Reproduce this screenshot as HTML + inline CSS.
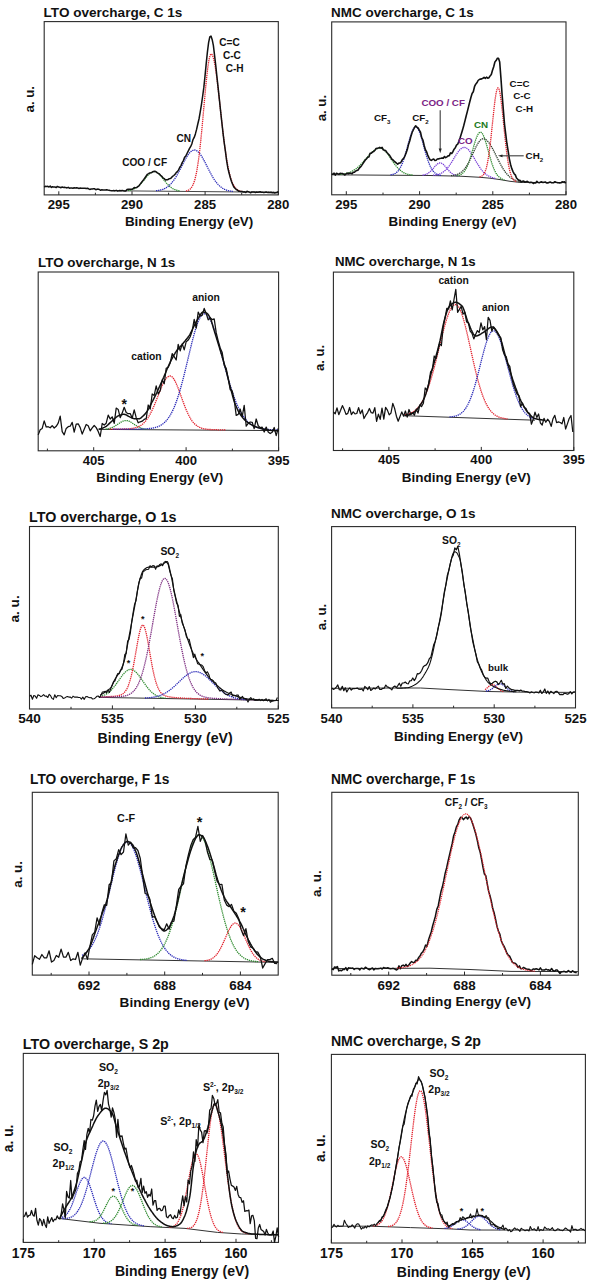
<!DOCTYPE html>
<html><head><meta charset="utf-8"><style>
html,body{margin:0;padding:0;background:#fff;overflow:hidden;width:589px;height:1280px;}
svg{display:block;}
text{font-family:"Liberation Sans", sans-serif;}
</style></head><body>
<svg width="589" height="1280" viewBox="0 0 589 1280">
<rect width="589" height="1280" fill="#fff"/>
<rect x="44.2" y="21.6" width="234.1" height="173.3" fill="none" stroke="#2a2a2a" stroke-width="1.1"/>
<path d="M58.8 194.9V191.3M132 194.9V191.3M205.1 194.9V191.3M278.3 194.9V191.3M95.4 194.9V192.7M168.6 194.9V192.7M241.7 194.9V192.7" stroke="#2a2a2a" stroke-width="1" fill="none"/>
<text x="58.8" y="209.2" font-size="13.2" fill="#111" font-weight="bold" text-anchor="middle">295</text>
<text x="132" y="209.2" font-size="13.2" fill="#111" font-weight="bold" text-anchor="middle">290</text>
<text x="205.1" y="209.2" font-size="13.2" fill="#111" font-weight="bold" text-anchor="middle">285</text>
<text x="278.3" y="209.2" font-size="13.2" fill="#111" font-weight="bold" text-anchor="middle">280</text>
<text x="43.6" y="16.6" font-size="13.55" fill="#111" font-weight="bold" text-anchor="start">LTO overcharge, C 1s</text>
<text transform="translate(34.3 99.2) rotate(-90)" font-size="13.2" font-weight="bold" text-anchor="middle" fill="#111">a. u.</text>
<text x="124.9" y="226.2" font-size="13.45" fill="#111" font-weight="bold" text-anchor="start">Binding Energy (eV)</text>
<path d="M117 190.8L278.3 192.3" fill="none" stroke="#333" stroke-width="0.9" stroke-linejoin="round"/>
<path d="M128 190.5L128.5 190.4L129 190.3L129.5 190.2L130 190.2L130.5 190.1L131 189.9L131.5 189.8L132 189.7L132.5 189.5L133 189.3L133.5 189.1L134 188.9L134.5 188.7L135 188.4L135.5 188.1L136 187.8L136.5 187.5L137 187.2L137.5 186.8L138 186.4L138.5 186L139 185.6L139.5 185.1L140 184.6L140.5 184.1L141 183.6L141.5 183L142 182.4L142.5 181.9L143 181.3L143.5 180.7L144 180L144.5 179.4L145 178.8L145.5 178.2L146 177.6L146.5 177L147 176.4L147.5 175.8L148 175.2L148.5 174.7L149 174.2L149.5 173.8L150 173.3L150.5 172.9L151 172.6L151.5 172.3L152 172L152.5 171.8L153 171.7L153.5 171.6L154 171.5L154.5 171.6L155 171.6L155.5 171.7L156 171.9L156.5 172.2L157 172.4L157.5 172.8L158 173.2L158.5 173.6L159 174L159.5 174.5L160 175.1L160.5 175.6L161 176.2L161.5 176.8L162 177.4L162.5 178.1L163 178.7L163.5 179.3L164 180L164.5 180.6L165 181.3L165.5 181.9L166 182.5L166.5 183.1L167 183.7L167.5 184.2L168 184.8L168.5 185.3L169 185.8L169.5 186.2L170 186.7L170.5 187.1L171 187.5L171.5 187.8L172 188.2L172.5 188.5L173 188.8L173.5 189.1L174 189.3L174.5 189.5L175 189.7L175.5 189.9L176 190.1L176.5 190.2L177 190.4L177.5 190.5L178 190.6L178.5 190.7L179 190.8L179.5 190.9L180 191" fill="none" stroke="#2e8a2e" stroke-width="1.3" stroke-linejoin="round" stroke-dasharray="1.3 0.8"/>
<path d="M156 190.7L156.5 190.7L157 190.6L157.5 190.6L158 190.5L158.5 190.4L159 190.3L159.5 190.2L160 190.1L160.5 190L161 189.9L161.5 189.8L162 189.6L162.5 189.5L163 189.3L163.5 189.1L164 188.9L164.5 188.6L165 188.4L165.5 188.1L166 187.9L166.5 187.5L167 187.2L167.5 186.9L168 186.5L168.5 186.1L169 185.7L169.5 185.2L170 184.7L170.5 184.2L171 183.7L171.5 183.1L172 182.6L172.5 181.9L173 181.3L173.5 180.6L174 179.9L174.5 179.2L175 178.4L175.5 177.6L176 176.8L176.5 176L177 175.1L177.5 174.2L178 173.3L178.5 172.4L179 171.5L179.5 170.5L180 169.6L180.5 168.6L181 167.6L181.5 166.6L182 165.6L182.5 164.7L183 163.7L183.5 162.7L184 161.7L184.5 160.8L185 159.9L185.5 159L186 158.1L186.5 157.2L187 156.4L187.5 155.7L188 154.9L188.5 154.2L189 153.6L189.5 153L190 152.4L190.5 151.9L191 151.4L191.5 151.1L192 150.7L192.5 150.5L193 150.3L193.5 150.1L194 150L194.5 150L195 150.1L195.5 150.2L196 150.4L196.5 150.6L197 150.9L197.5 151.3L198 151.7L198.5 152.2L199 152.7L199.5 153.3L200 153.9L200.5 154.6L201 155.3L201.5 156.1L202 156.9L202.5 157.7L203 158.6L203.5 159.5L204 160.4L204.5 161.4L205 162.3L205.5 163.3L206 164.3L206.5 165.3L207 166.3L207.5 167.3L208 168.3L208.5 169.2L209 170.2L209.5 171.2L210 172.1L210.5 173.1L211 174L211.5 174.9L212 175.8L212.5 176.7L213 177.5L213.5 178.3L214 179.1L214.5 179.8L215 180.6L215.5 181.3L216 182L216.5 182.6L217 183.2L217.5 183.8L218 184.4L218.5 184.9L219 185.4L219.5 185.9L220 186.3L220.5 186.7L221 187.1L221.5 187.5L222 187.9L222.5 188.2L223 188.5L223.5 188.8L224 189.1L224.5 189.3L225 189.5L225.5 189.7L226 189.9L226.5 190.1L227 190.3L227.5 190.4L228 190.6L228.5 190.7L229 190.8L229.5 190.9L230 191L230.5 191.1L231 191.2L231.5 191.3L232 191.4L232.5 191.4L233 191.5" fill="none" stroke="#2a2ab8" stroke-width="1.3" stroke-linejoin="round" stroke-dasharray="1.3 0.8"/>
<path d="M186 191L186.5 190.9L187 190.8L187.5 190.6L188 190.4L188.5 190.2L189 189.9L189.5 189.6L190 189.2L190.5 188.7L191 188.2L191.5 187.5L192 186.7L192.5 185.8L193 184.8L193.5 183.6L194 182.3L194.5 180.7L195 179L195.5 177L196 174.8L196.5 172.4L197 169.7L197.5 166.7L198 163.5L198.5 160L199 156.2L199.5 152.1L200 147.8L200.5 143.2L201 138.3L201.5 133.3L202 128L202.5 122.6L203 117.1L203.5 111.5L204 105.8L204.5 100.2L205 94.7L205.5 89.3L206 84.1L206.5 79.1L207 74.4L207.5 70.1L208 66.2L208.5 62.8L209 59.9L209.5 57.5L210 55.8L210.5 54.6L211 54L211.5 54.1L212 54.5L212.5 55.4L213 56.7L213.5 58.3L214 60.4L214.5 62.8L215 65.5L215.5 68.6L216 71.9L216.5 75.5L217 79.3L217.5 83.4L218 87.6L218.5 91.9L219 96.4L219.5 100.9L220 105.5L220.5 110.1L221 114.7L221.5 119.2L222 123.7L222.5 128.1L223 132.4L223.5 136.6L224 140.6L224.5 144.5L225 148.2L225.5 151.7L226 155.1L226.5 158.3L227 161.3L227.5 164.1L228 166.8L228.5 169.2L229 171.5L229.5 173.6L230 175.6L230.5 177.3L231 179L231.5 180.4L232 181.8L232.5 183L233 184.1L233.5 185L234 185.9L234.5 186.7L235 187.4L235.5 188L236 188.5L236.5 189L237 189.4L237.5 189.8L238 190.1L238.5 190.4L239 190.6L239.5 190.8L240 191L240.5 191.2L241 191.3L241.5 191.4L242 191.5" fill="none" stroke="#e2202c" stroke-width="1.3" stroke-linejoin="round" stroke-dasharray="1.3 0.8"/>
<path d="M44.2 187.1L45.4 186.3L46.6 186.4L47.8 186.3L49 187L50.2 186L51.4 187.5L52.6 186.7L53.8 187.1L55 187L56.2 187.6L57.4 186.4L58.6 187.1L59.8 187.2L61 187.7L62.2 187L63.4 187.4L64.6 187.2L65.8 187.6L67 187.9L68.2 187.3L69.4 188.2L70.6 188.1L71.8 188.1L73 188.3L74.2 187.8L75.4 188L76.6 187.8L77.8 188.1L79 188.4L80.2 188.1L81.4 188.2L82.6 188.2L83.8 188.2L85 188.3L86.2 188.6L87.4 188.3L88.6 188.8L89.8 189.4L91 189.1L92.2 188.9L93.4 188.7L94.6 188.8L95.8 189.7L97 189.3L98.2 189.1L99.4 189.5L100.6 190.3L101.8 189.7L103 190L104.2 190L105.4 189.9L106.6 189.7L107.8 190L109 190.2L110.2 190.5L111.4 190.7L112.6 190.8L113.8 190.6L115 190.9L116.2 190.3L117.4 191L118.6 190.8L119.8 190.5L121 190.7L122.2 190.4L123.4 190.8L124.6 190.9L125.8 191L127 189.5L128.2 189.2L129.4 189.3L130.6 189.2L131.8 189.2L133 188.8L134.2 187.6L135.4 187.8L136.6 187.6L137.8 186.6L139 185.8L140.2 184.1L141.4 182.5L142.6 181L143.8 179.5L145 177.7L146.2 176L147.4 174.3L148.6 173.7L149.8 172.9L151 172.7L152.2 172.2L153.4 171.5L154.6 171.3L155.8 171.6L157 172.6L158.2 173.3L159.4 174L160.6 175.3L161.8 176.3L163 177.9L164.2 178.6L165.4 180L166.6 179.8L167.8 179.7L169 178.8L170.2 178.5L171.4 177.8L172.6 176.3L173.8 175.5L175 174.4L176.2 172.6L177.4 171.6L178.6 169.9L179.8 167.3L181 165.6L182.2 162.6L183.4 160.5L184.6 157.3L185.8 156L187 153.5L188.2 151.2L189.4 148.6L190.6 146.7L191.8 144L193 139.6L194.2 137.4L195.4 133.9L196.6 129.4L197.8 124L199 119L200.2 112.2L201.4 104.9L202.6 96.5L203.8 87.7L205 76.1L206.2 63.6L207.4 52.1L208.6 42.7L209.8 36.9L211 36.1L212.2 39.7L213.4 45.7L214.6 55.6L215.8 65.9L217 77.3L218.2 88.4L219.4 99.6L220.6 111L221.8 122L223 132.8L224.2 142.6L225.4 151.1L226.6 160.5L227.8 167.7L229 172.7L230.2 177.3L231.4 181.2L232.6 184.3L233.8 186.9L235 188.2L236.2 189.5L237.4 190.2L238.6 191.2L239.8 191.2L241 191.6L242.2 191.5L243.4 192L244.6 191.8L245.8 192.5L247 191.2L248.2 191.6L249.4 192.2L250.6 192.8L251.8 191.9L253 192L254.2 191.9L255.4 192.5L256.6 192L257.8 192.3L259 192L260.2 191.7L261.4 192.3L262.6 192.3L263.8 192.6L265 192.2L266.2 192L267.4 192.4L268.6 192.3L269.8 192.4L271 192.2L272.2 192.7L273.4 192.4L274.6 193L275.8 192.7L277 192.5L278.2 191.7" fill="none" stroke="#111" stroke-width="1.5" stroke-linejoin="round"/>
<text x="122.2" y="166.1" font-size="10.1" fill="#111" font-weight="bold" text-anchor="start">COO / CF</text>
<text x="176.4" y="142.4" font-size="10.1" fill="#111" font-weight="bold" text-anchor="start">CN</text>
<text x="219.3" y="46.1" font-size="10.1" fill="#111" font-weight="bold" text-anchor="start">C=C</text>
<text x="222.9" y="58.7" font-size="10.1" fill="#111" font-weight="bold" text-anchor="start">C-C</text>
<text x="225.7" y="71.8" font-size="10.1" fill="#111" font-weight="bold" text-anchor="start">C-H</text>
<rect x="331.7" y="21.9" width="234.3" height="172.9" fill="none" stroke="#2a2a2a" stroke-width="1.1"/>
<path d="M346.3 194.8V191.2M419.6 194.8V191.2M492.8 194.8V191.2M566 194.8V191.2M383 194.8V192.6M456.2 194.8V192.6M529.4 194.8V192.6" stroke="#2a2a2a" stroke-width="1" fill="none"/>
<text x="346.3" y="209" font-size="13.2" fill="#111" font-weight="bold" text-anchor="middle">295</text>
<text x="419.6" y="209" font-size="13.2" fill="#111" font-weight="bold" text-anchor="middle">290</text>
<text x="492.8" y="209" font-size="13.2" fill="#111" font-weight="bold" text-anchor="middle">285</text>
<text x="566" y="209" font-size="13.2" fill="#111" font-weight="bold" text-anchor="middle">280</text>
<text x="331.1" y="16.6" font-size="13.45" fill="#111" font-weight="bold" text-anchor="start">NMC overcharge, C 1s</text>
<text transform="translate(325.9 108.1) rotate(-90)" font-size="13.2" font-weight="bold" text-anchor="middle" fill="#111">a. u.</text>
<text x="388.5" y="225.6" font-size="13.4" fill="#111" font-weight="bold" text-anchor="start">Binding Energy (eV)</text>
<path d="M331.7 174.8L430 175.5L460 176.2L480 177.3L490 178.2L500 179.6L510 181.3L520 182.4L566 182.6" fill="none" stroke="#333" stroke-width="1.0" stroke-linejoin="round"/>
<path d="M340 174.4L340.5 174.4L341 174.3L341.5 174.3L342 174.2L342.5 174.1L343 174.1L343.5 174L344 173.9L344.5 173.8L345 173.7L345.5 173.6L346 173.5L346.5 173.4L347 173.2L347.5 173.1L348 172.9L348.5 172.8L349 172.6L349.5 172.4L350 172.2L350.5 172L351 171.8L351.5 171.5L352 171.3L352.5 171L353 170.7L353.5 170.5L354 170.1L354.5 169.8L355 169.5L355.5 169.1L356 168.8L356.5 168.4L357 168L357.5 167.6L358 167.1L358.5 166.7L359 166.2L359.5 165.8L360 165.3L360.5 164.8L361 164.3L361.5 163.7L362 163.2L362.5 162.7L363 162.1L363.5 161.5L364 161L364.5 160.4L365 159.8L365.5 159.2L366 158.7L366.5 158.1L367 157.5L367.5 156.9L368 156.4L368.5 155.8L369 155.2L369.5 154.7L370 154.2L370.5 153.6L371 153.1L371.5 152.6L372 152.2L372.5 151.7L373 151.3L373.5 150.9L374 150.5L374.5 150.1L375 149.8L375.5 149.5L376 149.2L376.5 148.9L377 148.7L377.5 148.6L378 148.4L378.5 148.3L379 148.2L379.5 148.2L380 148.1L380.5 148.2L381 148.3L381.5 148.4L382 148.6L382.5 148.9L383 149.2L383.5 149.5L384 149.9L384.5 150.3L385 150.8L385.5 151.4L386 151.9L386.5 152.5L387 153.1L387.5 153.8L388 154.5L388.5 155.2L389 155.9L389.5 156.6L390 157.4L390.5 158.1L391 158.8L391.5 159.6L392 160.3L392.5 161.1L393 161.8L393.5 162.5L394 163.2L394.5 163.9L395 164.6L395.5 165.2L396 165.9L396.5 166.5L397 167.1L397.5 167.7L398 168.2L398.5 168.7L399 169.2L399.5 169.7L400 170.1L400.5 170.5L401 170.9L401.5 171.3L402 171.6L402.5 172L403 172.3L403.5 172.6L404 172.8L404.5 173.1L405 173.3L405.5 173.5L406 173.7L406.5 173.8L407 174L407.5 174.2L408 174.3L408.5 174.4L409 174.5L409.5 174.6L410 174.7L410.5 174.8L411 174.9L411.5 174.9L412 175L412.5 175" fill="none" stroke="#2e8a2e" stroke-width="1.3" stroke-linejoin="round" stroke-dasharray="1.3 0.8"/>
<path d="M390.5 174.9L391 174.8L391.5 174.7L392 174.6L392.5 174.5L393 174.4L393.5 174.2L394 174L394.5 173.8L395 173.5L395.5 173.3L396 172.9L396.5 172.5L397 172.1L397.5 171.6L398 171.1L398.5 170.5L399 169.8L399.5 169L400 168.2L400.5 167.3L401 166.3L401.5 165.3L402 164.1L402.5 162.9L403 161.6L403.5 160.1L404 158.7L404.5 157.1L405 155.5L405.5 153.8L406 152.1L406.5 150.3L407 148.5L407.5 146.7L408 144.8L408.5 143L409 141.2L409.5 139.4L410 137.7L410.5 136.1L411 134.6L411.5 133.1L412 131.8L412.5 130.6L413 129.6L413.5 128.7L414 128L414.5 127.4L415 127.1L415.5 126.9L416 126.9L416.5 127.1L417 127.5L417.5 128.1L418 128.9L418.5 129.8L419 130.9L419.5 132.1L420 133.5L420.5 134.9L421 136.5L421.5 138.1L422 139.9L422.5 141.7L423 143.5L423.5 145.3L424 147.1L424.5 149L425 150.8L425.5 152.6L426 154.3L426.5 156L427 157.6L427.5 159.1L428 160.6L428.5 162L429 163.3L429.5 164.5L430 165.7L430.5 166.8L431 167.7L431.5 168.6L432 169.5L432.5 170.2L433 170.9L433.5 171.5L434 172L434.5 172.5L435 173L435.5 173.4L436 173.7L436.5 174L437 174.3L437.5 174.5L438 174.7L438.5 174.9L439 175L439.5 175.1L440 175.3L440.5 175.3L441 175.4" fill="none" stroke="#2a2ab8" stroke-width="1.3" stroke-linejoin="round" stroke-dasharray="1.3 0.8"/>
<path d="M422.5 175.1L423 175.1L423.5 175L424 174.9L424.5 174.8L425 174.6L425.5 174.5L426 174.3L426.5 174.1L427 173.9L427.5 173.6L428 173.3L428.5 173L429 172.6L429.5 172.2L430 171.8L430.5 171.3L431 170.8L431.5 170.3L432 169.8L432.5 169.2L433 168.6L433.5 168.1L434 167.5L434.5 166.9L435 166.3L435.5 165.8L436 165.3L436.5 164.8L437 164.3L437.5 163.9L438 163.6L438.5 163.3L439 163.1L439.5 163L440 162.9L440.5 163L441 163.1L441.5 163.2L442 163.5L442.5 163.8L443 164.1L443.5 164.6L444 165L444.5 165.6L445 166.1L445.5 166.7L446 167.3L446.5 167.9L447 168.5L447.5 169.1L448 169.7L448.5 170.3L449 170.8L449.5 171.4L450 171.9L450.5 172.3L451 172.8L451.5 173.2L452 173.5L452.5 173.9L453 174.2L453.5 174.5L454 174.7L454.5 174.9L455 175.1L455.5 175.3L456 175.4L456.5 175.6L457 175.7L457.5 175.8L458 175.9" fill="none" stroke="#7a3fd8" stroke-width="1.3" stroke-linejoin="round" stroke-dasharray="1.3 0.8"/>
<path d="M433 175.2L433.5 175.2L434 175.2L434.5 175.1L435 175L435.5 175L436 174.9L436.5 174.8L437 174.7L437.5 174.6L438 174.5L438.5 174.3L439 174.2L439.5 174L440 173.8L440.5 173.6L441 173.3L441.5 173.1L442 172.8L442.5 172.5L443 172.2L443.5 171.8L444 171.4L444.5 171L445 170.6L445.5 170.1L446 169.6L446.5 169.1L447 168.6L447.5 168L448 167.4L448.5 166.7L449 166.1L449.5 165.4L450 164.6L450.5 163.9L451 163.1L451.5 162.4L452 161.6L452.5 160.8L453 160L453.5 159.1L454 158.3L454.5 157.5L455 156.7L455.5 155.8L456 155L456.5 154.3L457 153.5L457.5 152.8L458 152.1L458.5 151.4L459 150.8L459.5 150.2L460 149.6L460.5 149.2L461 148.7L461.5 148.4L462 148.1L462.5 147.8L463 147.6L463.5 147.5L464 147.4L464.5 147.4L465 147.5L465.5 147.7L466 147.9L466.5 148.1L467 148.5L467.5 148.8L468 149.3L468.5 149.8L469 150.3L469.5 150.9L470 151.6L470.5 152.3L471 153L471.5 153.8L472 154.5L472.5 155.4L473 156.2L473.5 157L474 157.9L474.5 158.7L475 159.6L475.5 160.5L476 161.3L476.5 162.2L477 163L477.5 163.8L478 164.7L478.5 165.4L479 166.2L479.5 167L480 167.7L480.5 168.4L481 169.1L481.5 169.7L482 170.4L482.5 171L483 171.5L483.5 172.1L484 172.6L484.5 173.1L485 173.5L485.5 173.9L486 174.3L486.5 174.7L487 175.1L487.5 175.4L488 175.7L488.5 176L489 176.2L489.5 176.5L490 176.7L490.5 176.9L491 177.2L491.5 177.4L492 177.6L492.5 177.7L493 177.9L493.5 178.1L494 178.2L494.5 178.4L495 178.5L495.5 178.6L496 178.7" fill="none" stroke="#7a3fd8" stroke-width="1.3" stroke-linejoin="round" stroke-dasharray="1.3 0.8"/>
<path d="M456.5 175.8L457 175.7L457.5 175.6L458 175.5L458.5 175.4L459 175.3L459.5 175.1L460 174.9L460.5 174.7L461 174.4L461.5 174.1L462 173.8L462.5 173.4L463 172.9L463.5 172.4L464 171.9L464.5 171.2L465 170.5L465.5 169.7L466 168.9L466.5 167.9L467 166.9L467.5 165.7L468 164.5L468.5 163.2L469 161.9L469.5 160.4L470 158.9L470.5 157.3L471 155.7L471.5 154L472 152.3L472.5 150.5L473 148.8L473.5 147L474 145.3L474.5 143.6L475 142L475.5 140.4L476 139L476.5 137.6L477 136.4L477.5 135.3L478 134.3L478.5 133.5L479 132.9L479.5 132.5L480 132.2L480.5 132.1L481 132.3L481.5 132.6L482 133.1L482.5 133.8L483 134.7L483.5 135.7L484 136.9L484.5 138.2L485 139.6L485.5 141.2L486 142.8L486.5 144.5L487 146.3L487.5 148.1L488 149.9L488.5 151.7L489 153.5L489.5 155.3L490 157.1L490.5 158.8L491 160.5L491.5 162.1L492 163.7L492.5 165.1L493 166.5L493.5 167.8L494 169L494.5 170.2L495 171.2L495.5 172.2L496 173.1L496.5 173.9L497 174.6L497.5 175.3L498 175.9L498.5 176.4L499 176.9L499.5 177.4L500 177.8L500.5 178.1L501 178.5L501.5 178.8L502 179L502.5 179.3L503 179.5L503.5 179.7L504 179.9L504.5 180" fill="none" stroke="#2e8a2e" stroke-width="1.3" stroke-linejoin="round" stroke-dasharray="1.3 0.8"/>
<path d="M451 175.7L451.5 175.6L452 175.6L452.5 175.5L453 175.5L453.5 175.4L454 175.3L454.5 175.2L455 175.1L455.5 175L456 174.8L456.5 174.7L457 174.5L457.5 174.3L458 174.1L458.5 173.9L459 173.6L459.5 173.3L460 173L460.5 172.7L461 172.3L461.5 172L462 171.5L462.5 171.1L463 170.6L463.5 170.1L464 169.5L464.5 168.9L465 168.2L465.5 167.6L466 166.8L466.5 166.1L467 165.3L467.5 164.4L468 163.6L468.5 162.6L469 161.7L469.5 160.7L470 159.7L470.5 158.7L471 157.7L471.5 156.6L472 155.5L472.5 154.4L473 153.3L473.5 152.2L474 151.1L474.5 150.1L475 149L475.5 148L476 146.9L476.5 146L477 145L477.5 144.1L478 143.3L478.5 142.5L479 141.8L479.5 141.1L480 140.5L480.5 140L481 139.6L481.5 139.2L482 139L482.5 138.8L483 138.7L483.5 138.7L484 138.8L484.5 138.9L485 139.1L485.5 139.4L486 139.7L486.5 140.1L487 140.5L487.5 141L488 141.6L488.5 142.2L489 142.8L489.5 143.5L490 144.2L490.5 145L491 145.8L491.5 146.7L492 147.6L492.5 148.5L493 149.5L493.5 150.4L494 151.4L494.5 152.4L495 153.4L495.5 154.4L496 155.4L496.5 156.5L497 157.5L497.5 158.5L498 159.5L498.5 160.5L499 161.4L499.5 162.4L500 163.3L500.5 164.3L501 165.2L501.5 166.1L502 166.9L502.5 167.8L503 168.6L503.5 169.4L504 170.1L504.5 170.9L505 171.6L505.5 172.3L506 172.9L506.5 173.5L507 174.1L507.5 174.7L508 175.3L508.5 175.8L509 176.3L509.5 176.7L510 177.2L510.5 177.6L511 178L511.5 178.3L512 178.6L512.5 178.9L513 179.2L513.5 179.5L514 179.8L514.5 180L515 180.2L515.5 180.4L516 180.6L516.5 180.8L517 181L517.5 181.2L518 181.3L518.5 181.5L519 181.6L519.5 181.7L520 181.9L520.5 181.9L521 182L521.5 182L522 182.1" fill="none" stroke="#2f3f2f" stroke-width="1.3" stroke-linejoin="round" stroke-dasharray="1.3 0.8"/>
<path d="M479.5 176.9L480 176.8L480.5 176.7L481 176.5L481.5 176.3L482 176L482.5 175.6L483 175.2L483.5 174.6L484 173.8L484.5 172.9L485 171.8L485.5 170.5L486 169L486.5 167.2L487 165.1L487.5 162.7L488 160L488.5 157L489 153.7L489.5 150L490 146.1L490.5 141.8L491 137.4L491.5 132.7L492 127.9L492.5 123.1L493 118.2L493.5 113.4L494 108.8L494.5 104.4L495 100.4L495.5 96.8L496 93.8L496.5 91.3L497 89.4L497.5 88.3L498 87.8L498.5 88.1L499 89.1L499.5 90.8L500 93.2L500.5 96.2L501 99.8L501.5 103.8L502 108.1L502.5 112.8L503 117.7L503.5 122.7L504 127.8L504.5 132.7L505 137.6L505.5 142.3L506 146.8L506.5 151L507 154.9L507.5 158.5L508 161.8L508.5 164.7L509 167.4L509.5 169.7L510 171.7L510.5 173.5L511 175L511.5 176.2L512 177.3L512.5 178.2L513 179L513.5 179.6L514 180.1L514.5 180.5L515 180.9L515.5 181.2L516 181.4L516.5 181.6L517 181.8" fill="none" stroke="#e2202c" stroke-width="1.3" stroke-linejoin="round" stroke-dasharray="1.3 0.8"/>
<path d="M331.7 174.1L332.9 174.3L334.1 173.2L335.3 175.1L336.5 173.3L337.7 173.7L338.9 174.4L340.1 173.4L341.3 173.5L342.5 173.5L343.7 174.1L344.9 175L346.1 173.8L347.3 173.1L348.5 173.8L349.7 173.1L350.9 173.3L352.1 173.7L353.3 172.3L354.5 172.2L355.7 171L356.9 170.6L358.1 170L359.3 168.1L360.5 166.9L361.7 165.4L362.9 163.6L364.1 161.8L365.3 160L366.5 158.9L367.7 157.2L368.9 157L370.1 153.3L371.3 153.2L372.5 152.1L373.7 151.6L374.9 150.2L376.1 148.6L377.3 148.3L378.5 148L379.7 147.4L380.9 148.2L382.1 147.4L383.3 149.8L384.5 150.4L385.7 150.6L386.9 152.5L388.1 153.8L389.3 155L390.5 156.9L391.7 159L392.9 159.8L394.1 161.1L395.3 162.1L396.5 163.2L397.7 164.1L398.9 163.1L400.1 163L401.3 161.7L402.5 159.3L403.7 158.4L404.9 156L406.1 152.9L407.3 149.6L408.5 144.6L409.7 141L410.9 136.4L412.1 132.5L413.3 130L414.5 127.5L415.7 125.8L416.9 127.2L418.1 128L419.3 130.2L420.5 132.2L421.7 137.6L422.9 140L424.1 145.2L425.3 149.5L426.5 151.6L427.7 155.1L428.9 157.6L430.1 159.8L431.3 160.4L432.5 159.6L433.7 159.1L434.9 160.5L436.1 160.2L437.3 159L438.5 158.9L439.7 158.5L440.9 158.3L442.1 157.9L443.3 158.3L444.5 156.5L445.7 157.6L446.9 156.9L448.1 155.9L449.3 155.7L450.5 152.9L451.7 153.5L452.9 151.7L454.1 149.2L455.3 147.8L456.5 145.1L457.7 144.2L458.9 141.2L460.1 137.7L461.3 133.9L462.5 130.1L463.7 125.8L464.9 121.1L466.1 116.2L467.3 111.6L468.5 106.9L469.7 102L470.9 97.5L472.1 93.5L473.3 91.8L474.5 86.7L475.7 84.2L476.9 82.8L478.1 80.5L479.3 79.5L480.5 79.1L481.7 78.9L482.9 78.3L484.1 77.3L485.3 78.4L486.5 77.2L487.7 78.2L488.9 77.7L490.1 75.9L491.3 74.5L492.5 70.3L493.7 66.7L494.9 62L496.1 60.6L497.3 58.4L498.5 58.2L499.7 62.1L500.9 77.6L502.1 94.5L503.3 109.4L504.5 124L505.7 133.8L506.9 143.5L508.1 150.6L509.3 158.6L510.5 164.2L511.7 168.4L512.9 171.3L514.1 173.7L515.3 174.9L516.5 178L517.7 179.2L518.9 180.4L520.1 180.4L521.3 181.9L522.5 181.2L523.7 181L524.9 182.3L526.1 181.7L527.3 181.4L528.5 182.2L529.7 182.6L530.9 182.3L532.1 182.5L533.3 183.5L534.5 182.7L535.7 183L536.9 181.3L538.1 182.5L539.3 182.7L540.5 182.1L541.7 181.9L542.9 182.5L544.1 182.2L545.3 182L546.5 182.9L547.7 183L548.9 182.5L550.1 182.1L551.3 182.6L552.5 182.8L553.7 182.7L554.9 181.7L556.1 182.2L557.3 182.6L558.5 182.7L559.7 182.9L560.9 182.8L562.1 181.8L563.3 182L564.5 181.8L565.7 183.3" fill="none" stroke="#111" stroke-width="1.6" stroke-linejoin="round"/>
<text x="373.9" y="121.3" font-size="9.8" fill="#111" font-weight="bold" text-anchor="start">CF<tspan font-size="6.1" dy="2.7">3</tspan></text>
<text x="412.2" y="121.3" font-size="9.8" fill="#111" font-weight="bold" text-anchor="start">CF<tspan font-size="6.1" dy="2.7">2</tspan></text>
<text x="421.4" y="105.6" font-size="9.8" fill="#7b2385" font-weight="bold" text-anchor="start">COO / CF</text>
<text x="458" y="143.6" font-size="9.8" fill="#7b2385" font-weight="bold" text-anchor="start">CO</text>
<text x="474" y="128.2" font-size="9.8" fill="#1d7a1d" font-weight="bold" text-anchor="start">CN</text>
<text x="509.6" y="86.6" font-size="9.8" fill="#111" font-weight="bold" text-anchor="start">C=C</text>
<text x="513.2" y="99.4" font-size="9.8" fill="#111" font-weight="bold" text-anchor="start">C-C</text>
<text x="515.6" y="112.4" font-size="9.8" fill="#111" font-weight="bold" text-anchor="start">C-H</text>
<text x="525.6" y="159" font-size="9.8" fill="#111" font-weight="bold" text-anchor="start">CH<tspan font-size="6.1" dy="2.7">2</tspan></text>
<path d="M440.2 110.2V150" stroke="#444" stroke-width="1.15"/><path d="M438.7 148.5L440.2 153.3L441.7 148.5Z" fill="#222"/>
<path d="M523.7 155.8H501" stroke="#444" stroke-width="1.15"/><path d="M502.5 154.4L497.9 155.8L502.5 157.2Z" fill="#222"/>
<rect x="38.2" y="272" width="240.4" height="178.8" fill="none" stroke="#2a2a2a" stroke-width="1.1"/>
<path d="M93.7 450.8V447.2M186.1 450.8V447.2M278.6 450.8V447.2M47.4 450.8V448.6M139.9 450.8V448.6M232.4 450.8V448.6" stroke="#2a2a2a" stroke-width="1" fill="none"/>
<text x="93.7" y="464.6" font-size="13.1" fill="#111" font-weight="bold" text-anchor="middle">405</text>
<text x="186.1" y="464.6" font-size="13.1" fill="#111" font-weight="bold" text-anchor="middle">400</text>
<text x="278.6" y="464.6" font-size="13.1" fill="#111" font-weight="bold" text-anchor="middle">395</text>
<text x="38.1" y="267.1" font-size="13.4" fill="#111" font-weight="bold" text-anchor="start">LTO overcharge, N 1s</text>
<text x="96.2" y="481.8" font-size="13.3" fill="#111" font-weight="bold" text-anchor="start">Binding Energy (eV)</text>
<path d="M98.7 429.4L278.8 430.6" fill="none" stroke="#333" stroke-width="1.0" stroke-linejoin="round"/>
<path d="M105.5 429.1L106 429.1L106.5 429L107 428.9L107.5 428.8L108 428.7L108.5 428.6L109 428.5L109.5 428.4L110 428.3L110.5 428.1L111 427.9L111.5 427.7L112 427.5L112.5 427.3L113 427.1L113.5 426.8L114 426.6L114.5 426.3L115 426L115.5 425.7L116 425.4L116.5 425.1L117 424.7L117.5 424.4L118 424.1L118.5 423.7L119 423.4L119.5 423.1L120 422.7L120.5 422.4L121 422.1L121.5 421.9L122 421.6L122.5 421.4L123 421.2L123.5 421L124 420.8L124.5 420.7L125 420.6L125.5 420.6L126 420.6L126.5 420.6L127 420.7L127.5 420.7L128 420.9L128.5 421L129 421.2L129.5 421.4L130 421.7L130.5 421.9L131 422.2L131.5 422.5L132 422.8L132.5 423.2L133 423.5L133.5 423.8L134 424.2L134.5 424.5L135 424.9L135.5 425.2L136 425.5L136.5 425.8L137 426.2L137.5 426.5L138 426.7L138.5 427L139 427.3L139.5 427.5L140 427.7L140.5 427.9L141 428.1L141.5 428.3L142 428.5L142.5 428.6L143 428.8L143.5 428.9L144 429L144.5 429.1L145 429.2L145.5 429.3L146 429.3L146.5 429.4" fill="none" stroke="#2e8a2e" stroke-width="1.3" stroke-linejoin="round" stroke-dasharray="1.3 0.8"/>
<path d="M109.5 429.2L110 429.2L110.5 429.2L111 429.2L111.5 429.2L112 429.2L112.5 429.2L113 429.2L113.5 429.2L114 429.2L114.5 429.1L115 429.1L115.5 429.1L116 429.1L116.5 429.1L117 429.1L117.5 429.1L118 429.1L118.5 429.1L119 429.1L119.5 429.1L120 429.1L120.5 429.1L121 429.1L121.5 429.1L122 429.1L122.5 429.1L123 429L123.5 429L124 429L124.5 429L125 429L125.5 429L126 428.9L126.5 428.9L127 428.9L127.5 428.9L128 428.8L128.5 428.8L129 428.8L129.5 428.7L130 428.7L130.5 428.6L131 428.6L131.5 428.5L132 428.4L132.5 428.4L133 428.3L133.5 428.2L134 428.1L134.5 428L135 427.9L135.5 427.7L136 427.6L136.5 427.4L137 427.3L137.5 427.1L138 426.9L138.5 426.7L139 426.4L139.5 426.2L140 425.9L140.5 425.6L141 425.3L141.5 424.9L142 424.6L142.5 424.2L143 423.8L143.5 423.3L144 422.8L144.5 422.3L145 421.8L145.5 421.2L146 420.6L146.5 419.9L147 419.2L147.5 418.5L148 417.8L148.5 417L149 416.1L149.5 415.3L150 414.4L150.5 413.4L151 412.4L151.5 411.4L152 410.4L152.5 409.3L153 408.2L153.5 407.1L154 405.9L154.5 404.7L155 403.5L155.5 402.3L156 401L156.5 399.8L157 398.5L157.5 397.2L158 396L158.5 394.7L159 393.4L159.5 392.1L160 390.9L160.5 389.7L161 388.5L161.5 387.3L162 386.1L162.5 385L163 384L163.5 382.9L164 382L164.5 381.1L165 380.2L165.5 379.4L166 378.7L166.5 378.1L167 377.5L167.5 377.1L168 376.7L168.5 376.4L169 376.1L169.5 376L170 376L170.5 376L171 376.2L171.5 376.5L172 376.8L172.5 377.3L173 377.9L173.5 378.5L174 379.3L174.5 380.1L175 381L175.5 382L176 383.1L176.5 384.2L177 385.4L177.5 386.6L178 387.8L178.5 389.2L179 390.5L179.5 391.8L180 393.2L180.5 394.6L181 396L181.5 397.4L182 398.8L182.5 400.2L183 401.6L183.5 402.9L184 404.2L184.5 405.6L185 406.8L185.5 408.1L186 409.3L186.5 410.5L187 411.6L187.5 412.7L188 413.8L188.5 414.8L189 415.8L189.5 416.7L190 417.6L190.5 418.5L191 419.3L191.5 420L192 420.8L192.5 421.4L193 422.1L193.5 422.7L194 423.2L194.5 423.8L195 424.3L195.5 424.7L196 425.1L196.5 425.5L197 425.9L197.5 426.2L198 426.5L198.5 426.8L199 427.1L199.5 427.3L200 427.5L200.5 427.8L201 427.9L201.5 428.1L202 428.3L202.5 428.4L203 428.5L203.5 428.6L204 428.8L204.5 428.8L205 428.9L205.5 429L206 429.1L206.5 429.2L207 429.2L207.5 429.3L208 429.3L208.5 429.4L209 429.4L209.5 429.4L210 429.5L210.5 429.5L211 429.5L211.5 429.6L212 429.6L212.5 429.6L213 429.6L213.5 429.7L214 429.7L214.5 429.7L215 429.7L215.5 429.7L216 429.7L216.5 429.7L217 429.8L217.5 429.8L218 429.8L218.5 429.8L219 429.8L219.5 429.8L220 429.8L220.5 429.8L221 429.9L221.5 429.9L222 429.9L222.5 429.9L223 429.9L223.5 429.9L224 429.9L224.5 429.9L225 429.9L225.5 429.9" fill="none" stroke="#e2202c" stroke-width="1.3" stroke-linejoin="round" stroke-dasharray="1.3 0.8"/>
<path d="M113 429.2L113.5 429.2L114 429.2L114.5 429.2L115 429.2L115.5 429.2L116 429.2L116.5 429.2L117 429.2L117.5 429.2L118 429.2L118.5 429.2L119 429.2L119.5 429.2L120 429.2L120.5 429.2L121 429.2L121.5 429.2L122 429.2L122.5 429.2L123 429.2L123.5 429.2L124 429.2L124.5 429.2L125 429.2L125.5 429.2L126 429.2L126.5 429.2L127 429.2L127.5 429.2L128 429.2L128.5 429.2L129 429.2L129.5 429.2L130 429.2L130.5 429.2L131 429.2L131.5 429.1L132 429.1L132.5 429.1L133 429.1L133.5 429.1L134 429.1L134.5 429.1L135 429.1L135.5 429.1L136 429.1L136.5 429.1L137 429.1L137.5 429.1L138 429.1L138.5 429.1L139 429.1L139.5 429L140 429L140.5 429L141 429L141.5 429L142 429L142.5 429L143 428.9L143.5 428.9L144 428.9L144.5 428.9L145 428.9L145.5 428.8L146 428.8L146.5 428.8L147 428.7L147.5 428.7L148 428.7L148.5 428.6L149 428.6L149.5 428.5L150 428.5L150.5 428.4L151 428.3L151.5 428.3L152 428.2L152.5 428.1L153 428L153.5 427.9L154 427.8L154.5 427.7L155 427.6L155.5 427.4L156 427.3L156.5 427.2L157 427L157.5 426.8L158 426.6L158.5 426.4L159 426.2L159.5 426L160 425.7L160.5 425.4L161 425.2L161.5 424.8L162 424.5L162.5 424.2L163 423.8L163.5 423.4L164 423L164.5 422.5L165 422.1L165.5 421.6L166 421L166.5 420.5L167 419.9L167.5 419.2L168 418.6L168.5 417.9L169 417.2L169.5 416.4L170 415.6L170.5 414.7L171 413.8L171.5 412.9L172 411.9L172.5 410.9L173 409.9L173.5 408.8L174 407.6L174.5 406.4L175 405.2L175.5 403.9L176 402.6L176.5 401.2L177 399.8L177.5 398.3L178 396.8L178.5 395.2L179 393.6L179.5 392L180 390.3L180.5 388.5L181 386.8L181.5 384.9L182 383.1L182.5 381.2L183 379.3L183.5 377.3L184 375.3L184.5 373.3L185 371.3L185.5 369.3L186 367.2L186.5 365.1L187 363L187.5 360.9L188 358.8L188.5 356.7L189 354.6L189.5 352.5L190 350.4L190.5 348.3L191 346.3L191.5 344.2L192 342.2L192.5 340.3L193 338.3L193.5 336.5L194 334.6L194.5 332.8L195 331.1L195.5 329.4L196 327.8L196.5 326.3L197 324.8L197.5 323.4L198 322.1L198.5 320.9L199 319.7L199.5 318.7L200 317.8L200.5 316.9L201 316.1L201.5 315.5L202 314.9L202.5 314.5L203 314.2L203.5 313.9L204 313.8L204.5 313.8L205 313.9L205.5 314.1L206 314.3L206.5 314.6L207 315.1L207.5 315.6L208 316.1L208.5 316.8L209 317.5L209.5 318.4L210 319.2L210.5 320.2L211 321.2L211.5 322.3L212 323.5L212.5 324.7L213 326L213.5 327.4L214 328.8L214.5 330.2L215 331.7L215.5 333.3L216 334.9L216.5 336.5L217 338.1L217.5 339.8L218 341.6L218.5 343.3L219 345.1L219.5 346.9L220 348.7L220.5 350.6L221 352.4L221.5 354.3L222 356.1L222.5 358L223 359.9L223.5 361.7L224 363.6L224.5 365.4L225 367.3L225.5 369.1L226 371L226.5 372.8L227 374.5L227.5 376.3L228 378.1L228.5 379.8L229 381.5L229.5 383.2L230 384.8L230.5 386.4L231 388L231.5 389.6L232 391.1L232.5 392.6L233 394L233.5 395.5L234 396.9L234.5 398.2L235 399.5L235.5 400.8L236 402.1L236.5 403.3L237 404.4L237.5 405.6L238 406.7L238.5 407.8L239 408.8L239.5 409.8L240 410.7L240.5 411.7L241 412.6L241.5 413.4L242 414.3L242.5 415L243 415.8L243.5 416.5L244 417.2L244.5 417.9L245 418.6L245.5 419.2L246 419.8L246.5 420.3L247 420.9L247.5 421.4L248 421.9L248.5 422.3L249 422.8L249.5 423.2L250 423.6L250.5 424L251 424.3L251.5 424.6L252 425L252.5 425.3L253 425.6L253.5 425.8L254 426.1L254.5 426.3L255 426.6L255.5 426.8L256 427L256.5 427.2L257 427.4L257.5 427.5L258 427.7L258.5 427.8L259 428L259.5 428.1L260 428.2L260.5 428.4L261 428.5L261.5 428.6L262 428.7L262.5 428.8L263 428.8L263.5 428.9L264 429L264.5 429.1L265 429.1L265.5 429.2L266 429.3L266.5 429.3L267 429.4L267.5 429.4L268 429.5L268.5 429.5L269 429.5L269.5 429.6L270 429.6L270.5 429.6L271 429.7L271.5 429.7L272 429.7L272.5 429.8L273 429.8L273.5 429.8L274 429.8L274.5 429.9L275 429.9L275.5 429.9L276 429.9L276.5 429.9L277 429.9L277.5 430L278 430" fill="none" stroke="#2a2ab8" stroke-width="1.3" stroke-linejoin="round" stroke-dasharray="1.3 0.8"/>
<path d="M98.7 429.2L99.2 429.1L99.7 429L100.2 428.9L100.7 428.8L101.2 428.6L101.7 428.5L102.2 428.3L102.7 428.1L103.2 427.8L103.7 427.6L104.2 427.4L104.7 427.1L105.2 426.9L105.7 426.6L106.2 426.3L106.7 425.9L107.2 425.5L107.7 425L108.2 424.6L108.7 424.1L109.2 423.6L109.7 423.1L110.2 422.7L110.7 422.2L111.2 421.7L111.7 421.3L112.2 420.8L112.7 420.4L113.2 419.9L113.7 419.4L114.2 418.9L114.7 418.5L115.2 418L115.7 417.6L116.2 417.1L116.7 416.8L117.2 416.4L117.7 416.1L118.2 415.9L118.7 415.7L119.2 415.5L119.7 415.3L120.2 415.1L120.7 414.9L121.2 414.8L121.7 414.6L122.2 414.5L122.7 414.4L123.2 414.3L123.7 414.3L124.2 414.3L124.7 414.4L125.2 414.5L125.7 414.7L126.2 414.9L126.7 415.2L127.2 415.5L127.7 415.8L128.2 416.1L128.7 416.4L129.2 416.6L129.7 416.9L130.2 417.1L130.7 417.3L131.2 417.5L131.7 417.8L132.2 418L132.7 418.2L133.2 418.4L133.7 418.6L134.2 418.7L134.7 418.8L135.2 418.8L135.7 418.8L136.2 418.8L136.7 418.8L137.2 418.8L137.7 418.8L138.2 418.8L138.7 418.8L139.2 418.8L139.7 418.7L140.2 418.4L140.7 418.1L141.2 417.7L141.7 417.2L142.2 416.7L142.7 416.3L143.2 415.8L143.7 415.4L144.2 414.9L144.7 414.4L145.2 413.8L145.7 413.2L146.2 412.6L146.7 411.9L147.2 411.2L147.7 410.4L148.2 409.5L148.7 408.6L149.2 407.6L149.7 406.6L150.2 405.6L150.7 404.6L151.2 403.6L151.7 402.7L152.2 401.7L152.7 400.8L153.2 399.8L153.7 398.9L154.2 397.9L154.7 396.9L155.2 395.9L155.7 394.9L156.2 393.8L156.7 392.8L157.2 391.7L157.7 390.6L158.2 389.5L158.7 388.4L159.2 387.3L159.7 386.2L160.2 385.1L160.7 384L161.2 382.9L161.7 381.8L162.2 380.7L162.7 379.5L163.2 378.4L163.7 377.3L164.2 376.1L164.7 374.9L165.2 373.7L165.7 372.5L166.2 371.3L166.7 370L167.2 368.8L167.7 367.7L168.2 366.6L168.7 365.5L169.2 364.4L169.7 363.3L170.2 362.2L170.7 361.2L171.2 360.2L171.7 359.2L172.2 358.3L172.7 357.3L173.2 356.4L173.7 355.5L174.2 354.6L174.7 353.8L175.2 352.9L175.7 352.2L176.2 351.4L176.7 350.7L177.2 350.1L177.7 349.5L178.2 348.9L178.7 348.4L179.2 347.9L179.7 347.3L180.2 346.8L180.7 346.2L181.2 345.6L181.7 345.1L182.2 344.5L182.7 343.8L183.2 343.2L183.7 342.6L184.2 342L184.7 341.4L185.2 340.8L185.7 340.1L186.2 339.5L186.7 338.9L187.2 338.3L187.7 337.7L188.2 337L188.7 336.3L189.2 335.6L189.7 334.8L190.2 333.9L190.7 332.9L191.2 331.9L191.7 330.8L192.2 329.8L192.7 328.7L193.2 327.6L193.7 326.6L194.2 325.6L194.7 324.7L195.2 323.7L195.7 322.7L196.2 321.8L196.7 320.9L197.2 320L197.7 319.2L198.2 318.4L198.7 317.6L199.2 316.7L199.7 315.8L200.2 314.9L200.7 314.1L201.2 313.4L201.7 312.8L202.2 312.4L202.7 312.1L203.2 312.1L203.7 312.1L204.2 312.2L204.7 312.3L205.2 312.5L205.7 312.7L206.2 312.9L206.7 313.1L207.2 313.5L207.7 314L208.2 314.6L208.7 315.3L209.2 316.1L209.7 317L210.2 317.9L210.7 319.1L211.2 320.5L211.7 322L212.2 323.8L212.7 325.5L213.2 327.3L213.7 329L214.2 330.6L214.7 332.2L215.2 333.8L215.7 335.5L216.2 337.1L216.7 338.7L217.2 340.3L217.7 342L218.2 343.6L218.7 345.3L219.2 346.9L219.7 348.6L220.2 350.2L220.7 351.8L221.2 353.5L221.7 355.1L222.2 356.8L222.7 358.5L223.2 360.2L223.7 361.9L224.2 363.6L224.7 365.4L225.2 367.1L225.7 369L226.2 370.9L226.7 372.8L227.2 374.8L227.7 376.9L228.2 378.9L228.7 380.9L229.2 382.9L229.7 384.9L230.2 386.8L230.7 388.7L231.2 390.6L231.7 392.5L232.2 394.4L232.7 396.3L233.2 398L233.7 399.7L234.2 401.3L234.7 402.7L235.2 404L235.7 405.3L236.2 406.5L236.7 407.7L237.2 408.8L237.7 409.9L238.2 410.9L238.7 411.8L239.2 412.7L239.7 413.5L240.2 414.3L240.7 415L241.2 415.7L241.7 416.4L242.2 417.1L242.7 417.7L243.2 418.3L243.7 418.8L244.2 419.4L244.7 419.9L245.2 420.3L245.7 420.8L246.2 421.2L246.7 421.6L247.2 422L247.7 422.4L248.2 422.7L248.7 423.1L249.2 423.4L249.7 423.7L250.2 424.1L250.7 424.4L251.2 424.6L251.7 424.9L252.2 425.2L252.7 425.5L253.2 425.7L253.7 425.9L254.2 426.2L254.7 426.4L255.2 426.6L255.7 426.8L256.2 427L256.7 427.2L257.2 427.3L257.7 427.5L258.2 427.7L258.7 427.8L259.2 428L259.7 428.1L260.2 428.3L260.7 428.4L261.2 428.5L261.7 428.7L262.2 428.8L262.7 428.9L263.2 429L263.7 429.2L264.2 429.3L264.7 429.4L265.2 429.5L265.7 429.6L266.2 429.7L266.7 429.8L267.2 429.9L267.7 430L268.2 430.1L268.7 430.1L269.2 430.2L269.7 430.2L270.2 430.3L270.7 430.3L271.2 430.4L271.7 430.4L272.2 430.5L272.7 430.5L273.2 430.6L273.7 430.6L274.2 430.6L274.7 430.7L275.2 430.7L275.7 430.7L276.2 430.7L276.7 430.8L277.2 430.8L277.7 430.8L278.2 430.8L278.7 430.8L278.8 430.8" fill="none" stroke="#111" stroke-width="1.5" stroke-linejoin="round"/>
<path d="M38.2 434.9L40.2 429.7L42.2 428.4L44.2 420.9L46.2 427L48.2 426.7L50.2 427.8L52.2 425.7L54.2 428L56.2 426.3L58.2 423.1L60.2 416.2L62.2 431.6L64.2 434.8L66.2 428.4L68.2 426.7L70.2 426.2L72.2 422.4L74.2 432.1L76.2 424.1L78.2 423.8L80.2 427.6L82.2 434.1L84.2 429.3L86.2 424.5L88.2 425.7L90.2 430.8L92.2 427.8L94.2 425.5L96.2 427.6L98.2 431.4L100.2 436.5L102.2 423.5L104.2 425L106.2 423.2L108.2 415.1L110.2 419L112.2 416.8L114.2 423.4L116.2 408.1L118.2 409.4L120.2 417.7L122.2 413.1L124.2 407.3L126.2 412.5L128.2 413.7L130.2 413.6L132.2 418.1L134.2 409.8L136.2 417.7L138.2 422.8L140.2 421.8L142.2 421.2L144.2 419.4L146.2 418.6L148.2 405L150.2 409.1L152.2 394L154.2 395.4L156.2 385.8L158.2 393.9L160.2 390.7L162.2 379.8L164.2 383.8L166.2 368.3L168.2 367.2L170.2 362.9L172.2 353.6L174.2 356.6L176.2 360L178.2 344.4L180.2 350.8L182.2 343.8L184.2 349.9L186.2 341.7L188.2 340.1L190.2 336.8L192.2 330.9L194.2 319.3L196.2 328.2L198.2 312.1L200.2 316L202.2 315.2L204.2 308.4L206.2 313.5L208.2 319.9L210.2 317.8L212.2 319.7L214.2 318.9L216.2 332.7L218.2 341L220.2 347.9L222.2 352.6L224.2 365.2L226.2 368.4L228.2 378.4L230.2 389.6L232.2 390.8L234.2 400L236.2 415.4L238.2 414.4L240.2 409.1L242.2 416.7L244.2 405.4L246.2 426.1L248.2 423.3L250.2 422L252.2 422.3L254.2 428.7L256.2 419L258.2 425.7L260.2 427.6L262.2 427.2L264.2 432L266.2 427.1L268.2 431.9L270.2 433.5L272.2 432.3L274.2 427.5L276.2 435.7L278.2 428.3" fill="none" stroke="#111" stroke-width="1.25" stroke-linejoin="round"/>
<text x="124.2" y="408.6" font-size="14" fill="#111" font-weight="bold" text-anchor="middle">*</text>
<text x="131.3" y="360" font-size="10.3" fill="#111" font-weight="bold" text-anchor="start">cation</text>
<text x="192.3" y="301" font-size="10.3" fill="#111" font-weight="bold" text-anchor="start">anion</text>
<rect x="333.4" y="272.1" width="240.4" height="178.4" fill="none" stroke="#2a2a2a" stroke-width="1.1"/>
<path d="M388.9 450.5V446.9M481.3 450.5V446.9M573.8 450.5V446.9M342.6 450.5V448.3M435.1 450.5V448.3M527.5 450.5V448.3" stroke="#2a2a2a" stroke-width="1" fill="none"/>
<text x="388.9" y="464.1" font-size="13.1" fill="#111" font-weight="bold" text-anchor="middle">405</text>
<text x="481.3" y="464.1" font-size="13.1" fill="#111" font-weight="bold" text-anchor="middle">400</text>
<text x="573.8" y="464.1" font-size="13.1" fill="#111" font-weight="bold" text-anchor="middle">395</text>
<text x="335" y="265.5" font-size="13.25" fill="#111" font-weight="bold" text-anchor="start">NMC overcharge, N 1s</text>
<text transform="translate(324.1 358) rotate(-90)" font-size="13.1" font-weight="bold" text-anchor="middle" fill="#111">a. u.</text>
<text x="401.7" y="482.1" font-size="13.5" fill="#111" font-weight="bold" text-anchor="start">Binding Energy (eV)</text>
<path d="M404.5 415.7L535 420.2" fill="none" stroke="#333" stroke-width="1.0" stroke-linejoin="round"/>
<path d="M405 414.7L405.5 414.6L406 414.5L406.5 414.4L407 414.3L407.5 414.2L408 414L408.5 413.9L409 413.7L409.5 413.6L410 413.4L410.5 413.2L411 412.9L411.5 412.7L412 412.5L412.5 412.2L413 411.9L413.5 411.6L414 411.2L414.5 410.9L415 410.5L415.5 410.1L416 409.7L416.5 409.2L417 408.7L417.5 408.2L418 407.6L418.5 407L419 406.4L419.5 405.8L420 405.1L420.5 404.3L421 403.6L421.5 402.8L422 401.9L422.5 401L423 400.1L423.5 399.1L424 398.1L424.5 397L425 395.9L425.5 394.8L426 393.6L426.5 392.3L427 391.1L427.5 389.7L428 388.3L428.5 386.9L429 385.4L429.5 383.9L430 382.3L430.5 380.7L431 379.1L431.5 377.4L432 375.7L432.5 373.9L433 372.1L433.5 370.2L434 368.4L434.5 366.5L435 364.5L435.5 362.6L436 360.6L436.5 358.6L437 356.6L437.5 354.5L438 352.5L438.5 350.4L439 348.4L439.5 346.3L440 344.2L440.5 342.2L441 340.2L441.5 338.1L442 336.1L442.5 334.2L443 332.2L443.5 330.3L444 328.4L444.5 326.6L445 324.8L445.5 323.1L446 321.4L446.5 319.8L447 318.2L447.5 316.7L448 315.3L448.5 313.9L449 312.7L449.5 311.5L450 310.4L450.5 309.4L451 308.4L451.5 307.6L452 306.9L452.5 306.2L453 305.7L453.5 305.2L454 304.9L454.5 304.6L455 304.5L455.5 304.5L456 304.5L456.5 304.7L457 305.1L457.5 305.5L458 306.1L458.5 306.7L459 307.5L459.5 308.4L460 309.5L460.5 310.6L461 311.8L461.5 313.1L462 314.6L462.5 316.1L463 317.7L463.5 319.3L464 321.1L464.5 322.9L465 324.8L465.5 326.8L466 328.8L466.5 330.9L467 333L467.5 335.1L468 337.3L468.5 339.5L469 341.8L469.5 344L470 346.3L470.5 348.5L471 350.8L471.5 353.1L472 355.3L472.5 357.6L473 359.8L473.5 362L474 364.2L474.5 366.4L475 368.5L475.5 370.6L476 372.7L476.5 374.7L477 376.6L477.5 378.6L478 380.5L478.5 382.3L479 384.1L479.5 385.8L480 387.5L480.5 389.1L481 390.7L481.5 392.2L482 393.7L482.5 395.1L483 396.4L483.5 397.7L484 399L484.5 400.2L485 401.3L485.5 402.4L486 403.4L486.5 404.4L487 405.3L487.5 406.2L488 407.1L488.5 407.9L489 408.7L489.5 409.4L490 410.1L490.5 410.7L491 411.3L491.5 411.9L492 412.4L492.5 412.9L493 413.4L493.5 413.8L494 414.2L494.5 414.6L495 415L495.5 415.3L496 415.6L496.5 415.9L497 416.2L497.5 416.4L498 416.7L498.5 416.9L499 417.1L499.5 417.3L500 417.4L500.5 417.6L501 417.7L501.5 417.9L502 418L502.5 418.1L503 418.2L503.5 418.3L504 418.4L504.5 418.5L505 418.6L505.5 418.7L506 418.7L506.5 418.8L507 418.9L507.5 418.9" fill="none" stroke="#e2202c" stroke-width="1.3" stroke-linejoin="round" stroke-dasharray="1.3 0.8"/>
<path d="M449.5 416.9L450 416.9L450.5 416.8L451 416.8L451.5 416.8L452 416.7L452.5 416.6L453 416.6L453.5 416.5L454 416.4L454.5 416.3L455 416.2L455.5 416.1L456 415.9L456.5 415.8L457 415.6L457.5 415.4L458 415.2L458.5 414.9L459 414.7L459.5 414.4L460 414.1L460.5 413.8L461 413.4L461.5 413L462 412.6L462.5 412.1L463 411.6L463.5 411.1L464 410.5L464.5 409.9L465 409.2L465.5 408.5L466 407.8L466.5 407L467 406.1L467.5 405.2L468 404.3L468.5 403.3L469 402.2L469.5 401.1L470 399.9L470.5 398.7L471 397.4L471.5 396.1L472 394.7L472.5 393.2L473 391.7L473.5 390.2L474 388.5L474.5 386.9L475 385.2L475.5 383.4L476 381.6L476.5 379.8L477 377.9L477.5 376L478 374.1L478.5 372.1L479 370.1L479.5 368.1L480 366.1L480.5 364.1L481 362.1L481.5 360.1L482 358.2L482.5 356.2L483 354.3L483.5 352.4L484 350.5L484.5 348.7L485 347L485.5 345.3L486 343.6L486.5 342.1L487 340.6L487.5 339.2L488 337.9L488.5 336.7L489 335.6L489.5 334.6L490 333.7L490.5 332.9L491 332.2L491.5 331.7L492 331.3L492.5 331L493 330.8L493.5 330.8L494 330.8L494.5 331L495 331.3L495.5 331.7L496 332.2L496.5 332.9L497 333.6L497.5 334.4L498 335.4L498.5 336.4L499 337.5L499.5 338.7L500 340L500.5 341.4L501 342.8L501.5 344.3L502 345.9L502.5 347.5L503 349.2L503.5 350.9L504 352.7L504.5 354.5L505 356.4L505.5 358.2L506 360.1L506.5 362L507 364L507.5 365.9L508 367.8L508.5 369.7L509 371.6L509.5 373.5L510 375.4L510.5 377.3L511 379.1L511.5 380.9L512 382.7L512.5 384.4L513 386.1L513.5 387.7L514 389.4L514.5 390.9L515 392.4L515.5 393.9L516 395.4L516.5 396.7L517 398.1L517.5 399.4L518 400.6L518.5 401.8L519 402.9L519.5 404L520 405L520.5 406L521 406.9L521.5 407.8L522 408.7L522.5 409.5L523 410.2L523.5 410.9L524 411.6L524.5 412.3L525 412.9L525.5 413.4L526 413.9L526.5 414.4L527 414.9L527.5 415.3L528 415.7L528.5 416.1L529 416.5L529.5 416.8L530 417.1L530.5 417.4L531 417.6L531.5 417.9L532 418.1L532.5 418.3L533 418.5L533.5 418.7L534 418.8L534.5 419L535 419.1" fill="none" stroke="#2a2ab8" stroke-width="1.3" stroke-linejoin="round" stroke-dasharray="1.3 0.8"/>
<path d="M404.5 415.5L405 415.5L405.5 415.5L406 415.4L406.5 415.3L407 415.2L407.5 415.1L408 415L408.5 414.9L409 414.8L409.5 414.6L410 414.5L410.5 414.3L411 414.1L411.5 413.9L412 413.6L412.5 413.3L413 413L413.5 412.6L414 412.3L414.5 411.9L415 411.5L415.5 411.1L416 410.6L416.5 410.1L417 409.5L417.5 408.9L418 408.3L418.5 407.6L419 406.9L419.5 406.2L420 405.5L420.5 404.8L421 404L421.5 403.3L422 402.4L422.5 401.6L423 400.7L423.5 399.7L424 398.7L424.5 397.5L425 396.3L425.5 394.9L426 393.4L426.5 391.7L427 390L427.5 388.3L428 386.5L428.5 384.6L429 382.4L429.5 380.2L430 377.9L430.5 375.7L431 373.7L431.5 371.8L432 370L432.5 368.3L433 366.6L433.5 364.9L434 363.2L434.5 361.5L435 359.7L435.5 357.9L436 356.1L436.5 354.3L437 352.4L437.5 350.6L438 348.7L438.5 346.7L439 344.8L439.5 342.7L440 340.7L440.5 338.4L441 336L441.5 333.5L442 331L442.5 328.5L443 326.1L443.5 323.7L444 321.6L444.5 319.6L445 317.8L445.5 316.1L446 314.4L446.5 312.8L447 311.3L447.5 309.9L448 308.7L448.5 307.7L449 307L449.5 306.4L450 305.8L450.5 305.3L451 304.8L451.5 304.3L452 303.9L452.5 303.5L453 303.1L453.5 302.9L454 302.6L454.5 302.4L455 302.3L455.5 302.3L456 302.3L456.5 302.4L457 302.5L457.5 302.7L458 303L458.5 303.2L459 303.5L459.5 303.9L460 304.3L460.5 304.7L461 305.1L461.5 305.5L462 306L462.5 306.6L463 307.5L463.5 308.7L464 310L464.5 311.5L465 313.1L465.5 314.7L466 316.3L466.5 317.9L467 319.4L467.5 320.8L468 322L468.5 323.1L469 324.3L469.5 325.5L470 326.7L470.5 328L471 329.2L471.5 330.3L472 331.4L472.5 332.4L473 333.4L473.5 334.2L474 334.9L474.5 335.4L475 335.8L475.5 336L476 336L476.5 335.9L477 335.8L477.5 335.7L478 335.5L478.5 335.3L479 335L479.5 334.8L480 334.5L480.5 334.2L481 333.9L481.5 333.5L482 333.2L482.5 332.9L483 332.6L483.5 332.3L484 332L484.5 331.7L485 331.4L485.5 331L486 330.6L486.5 330.2L487 329.8L487.5 329.4L488 329L488.5 328.6L489 328.2L489.5 327.9L490 327.6L490.5 327.3L491 327.2L491.5 327L492 327L492.5 327.1L493 327.2L493.5 327.5L494 327.9L494.5 328.4L495 328.9L495.5 329.5L496 330.2L496.5 330.9L497 331.7L497.5 332.5L498 333.3L498.5 334.2L499 335L499.5 336L500 337.1L500.5 338.4L501 339.9L501.5 341.6L502 343.3L502.5 345.1L503 347L503.5 348.9L504 350.9L504.5 352.8L505 354.7L505.5 356.5L506 358.3L506.5 360L507 361.6L507.5 363.2L508 364.8L508.5 366.4L509 368L509.5 369.5L510 371.1L510.5 372.7L511 374.3L511.5 375.8L512 377.3L512.5 378.9L513 380.4L513.5 381.8L514 383.3L514.5 384.7L515 386.1L515.5 387.5L516 388.8L516.5 390.1L517 391.4L517.5 392.7L518 394L518.5 395.2L519 396.4L519.5 397.6L520 398.8L520.5 399.9L521 401L521.5 402L522 403L522.5 403.9L523 404.9L523.5 405.8L524 406.7L524.5 407.6L525 408.4L525.5 409.2L526 410L526.5 410.7L527 411.4L527.5 412L528 412.6L528.5 413.2L529 413.7L529.5 414.3L530 414.8L530.5 415.4L531 415.9L531.5 416.4L532 416.8L532.5 417.2L533 417.6L533.5 417.9L534 418.2L534.5 418.4L535 418.6L535.5 418.7L536 418.8L536.5 419L537 419.1L537.5 419.2L538 419.3L538.5 419.4L539 419.5L539.5 419.5L540 419.6L540.5 419.7L541 419.7L541.5 419.8L542 419.9L542.5 419.9L543 419.9L543.5 420L544 420L544.5 420L545 420" fill="none" stroke="#111" stroke-width="1.5" stroke-linejoin="round"/>
<path d="M333.4 412L335.2 413.8L337 407.9L338.8 414.7L340.6 410.3L342.4 405.6L344.2 409.4L346 414.4L347.8 413.4L349.6 407.5L351.4 414.6L353.2 411.8L355 413.9L356.8 413.5L358.6 407.6L360.4 413.7L362.2 409.9L364 418.5L365.8 415.2L367.6 412.6L369.4 408.5L371.2 412.7L373 413.1L374.8 407.7L376.6 421.4L378.4 414.1L380.2 419.3L382 408.2L383.8 419.2L385.6 407.3L387.4 410.1L389.2 414.9L391 413L392.8 403.4L394.6 408.4L396.4 416.2L398.2 421.2L400 416.6L401.8 411.9L403.6 416.2L405.4 411L407.2 417.2L409 409.5L410.8 414.2L412.6 412.7L414.4 415.2L416.2 409.2L418 413.1L419.8 405L421.6 406.5L423.4 403.2L425.2 388L427 390.2L428.8 383.4L430.6 371.9L432.4 369.4L434.2 356L436 358.6L437.8 351.7L439.6 343.7L441.4 345.5L443.2 326.8L445 318.1L446.8 308.4L448.6 309L450.4 300.8L452.2 309.8L454 299.5L455.8 289.3L457.6 312.3L459.4 309.4L461.2 306.4L463 314.1L464.8 312.2L466.6 322L468.4 323L470.2 331.2L472 333.4L473.8 338.9L475.6 334.4L477.4 330.6L479.2 332.5L481 322.8L482.8 329.9L484.6 326.6L486.4 339.7L488.2 317.3L490 320.4L491.8 331.1L493.6 326.8L495.4 329.6L497.2 332.9L499 336L500.8 337.6L502.6 349.9L504.4 354.8L506.2 356.7L508 364L509.8 366.3L511.6 377.3L513.4 384.7L515.2 389.4L517 394L518.8 395.4L520.6 406.7L522.4 402.9L524.2 407.2L526 408.6L527.8 412.7L529.6 413.4L531.4 424.2L533.2 419.4L535 412.2L536.8 417.4L538.6 414L540.4 423L542.2 425L544 418.3L545.8 422.3L547.6 419.2L549.4 421.5L551.2 426.4L553 418.7L554.8 415.4L556.6 422.7L558.4 421.9L560.2 422.5L562 423.8L563.8 417.5L565.6 429L567.4 423.9L569.2 418.5L571 415.5L572.8 432" fill="none" stroke="#111" stroke-width="1.25" stroke-linejoin="round"/>
<text x="438.4" y="283.8" font-size="10.3" fill="#111" font-weight="bold" text-anchor="start">cation</text>
<text x="482" y="310.9" font-size="10.3" fill="#111" font-weight="bold" text-anchor="start">anion</text>
<rect x="29.5" y="526.5" width="248.8" height="182.5" fill="none" stroke="#2a2a2a" stroke-width="1.1"/>
<path d="M29.5 709V705.4M112.4 709V705.4M195.4 709V705.4M278.3 709V705.4M71 709V706.8M153.9 709V706.8M236.8 709V706.8" stroke="#2a2a2a" stroke-width="1" fill="none"/>
<text x="29.5" y="723.3" font-size="13.6" fill="#111" font-weight="bold" text-anchor="middle">540</text>
<text x="112.4" y="723.3" font-size="13.6" fill="#111" font-weight="bold" text-anchor="middle">535</text>
<text x="195.4" y="723.3" font-size="13.6" fill="#111" font-weight="bold" text-anchor="middle">530</text>
<text x="278.3" y="723.3" font-size="13.6" fill="#111" font-weight="bold" text-anchor="middle">525</text>
<text x="29.1" y="522" font-size="14.3" fill="#111" font-weight="bold" text-anchor="start">LTO overcharge, O 1s</text>
<text transform="translate(19.3 608.9) rotate(-90)" font-size="13.6" font-weight="bold" text-anchor="middle" fill="#111">a. u.</text>
<text x="97.5" y="743.3" font-size="14.15" fill="#111" font-weight="bold" text-anchor="start">Binding Energy (eV)</text>
<path d="M100 697.4L278.7 700.5" fill="none" stroke="#333" stroke-width="1.0" stroke-linejoin="round"/>
<path d="M100 696.5L100.5 696.4L101 696.3L101.5 696.1L102 696L102.5 695.8L103 695.6L103.5 695.5L104 695.3L104.5 695L105 694.8L105.5 694.5L106 694.2L106.5 693.9L107 693.6L107.5 693.3L108 692.9L108.5 692.6L109 692.2L109.5 691.7L110 691.3L110.5 690.8L111 690.3L111.5 689.8L112 689.3L112.5 688.7L113 688.1L113.5 687.5L114 686.9L114.5 686.3L115 685.6L115.5 685L116 684.3L116.5 683.6L117 682.9L117.5 682.2L118 681.5L118.5 680.8L119 680.1L119.5 679.4L120 678.6L120.5 677.9L121 677.2L121.5 676.6L122 675.9L122.5 675.2L123 674.6L123.5 674L124 673.4L124.5 672.9L125 672.4L125.5 671.9L126 671.4L126.5 671L127 670.7L127.5 670.3L128 670.1L128.5 669.8L129 669.7L129.5 669.5L130 669.4L130.5 669.4L131 669.4L131.5 669.5L132 669.6L132.5 669.7L133 670L133.5 670.2L134 670.5L134.5 670.9L135 671.3L135.5 671.7L136 672.2L136.5 672.7L137 673.2L137.5 673.8L138 674.4L138.5 675L139 675.6L139.5 676.3L140 677L140.5 677.7L141 678.4L141.5 679.1L142 679.9L142.5 680.6L143 681.3L143.5 682.1L144 682.8L144.5 683.5L145 684.2L145.5 684.9L146 685.6L146.5 686.3L147 687L147.5 687.6L148 688.2L148.5 688.8L149 689.4L149.5 690L150 690.5L150.5 691.1L151 691.6L151.5 692L152 692.5L152.5 692.9L153 693.4L153.5 693.7L154 694.1L154.5 694.5L155 694.8L155.5 695.1L156 695.4L156.5 695.7L157 695.9L157.5 696.2L158 696.4L158.5 696.6L159 696.8L159.5 697L160 697.1L160.5 697.3L161 697.4L161.5 697.5L162 697.6L162.5 697.8L163 697.9L163.5 697.9L164 698L164.5 698.1L165 698.2L165.5 698.2L166 698.3L166.5 698.3" fill="none" stroke="#2e8a2e" stroke-width="1.3" stroke-linejoin="round" stroke-dasharray="1.3 0.8"/>
<path d="M100 696.9L100.5 696.9L101 696.9L101.5 696.9L102 696.9L102.5 696.8L103 696.8L103.5 696.8L104 696.8L104.5 696.8L105 696.8L105.5 696.8L106 696.8L106.5 696.7L107 696.7L107.5 696.7L108 696.7L108.5 696.7L109 696.6L109.5 696.6L110 696.6L110.5 696.6L111 696.5L111.5 696.5L112 696.5L112.5 696.4L113 696.4L113.5 696.4L114 696.3L114.5 696.3L115 696.2L115.5 696.2L116 696.1L116.5 696L117 695.9L117.5 695.9L118 695.8L118.5 695.6L119 695.5L119.5 695.4L120 695.2L120.5 695L121 694.8L121.5 694.6L122 694.3L122.5 694L123 693.7L123.5 693.3L124 692.8L124.5 692.3L125 691.7L125.5 691.1L126 690.3L126.5 689.5L127 688.6L127.5 687.6L128 686.4L128.5 685.1L129 683.8L129.5 682.2L130 680.6L130.5 678.8L131 676.9L131.5 674.8L132 672.6L132.5 670.3L133 667.9L133.5 665.3L134 662.7L134.5 659.9L135 657.1L135.5 654.2L136 651.4L136.5 648.5L137 645.6L137.5 642.8L138 640L138.5 637.4L139 635L139.5 632.7L140 630.7L140.5 628.9L141 627.5L141.5 626.3L142 625.6L142.5 625.2L143 625.1L143.5 625.5L144 626.2L144.5 627.3L145 628.7L145.5 630.4L146 632.4L146.5 634.6L147 637.1L147.5 639.7L148 642.4L148.5 645.2L149 648.1L149.5 651L150 653.9L150.5 656.8L151 659.6L151.5 662.4L152 665.1L152.5 667.7L153 670.2L153.5 672.5L154 674.8L154.5 676.9L155 678.8L155.5 680.7L156 682.4L156.5 683.9L157 685.3L157.5 686.6L158 687.8L158.5 688.9L159 689.9L159.5 690.7L160 691.5L160.5 692.2L161 692.8L161.5 693.3L162 693.8L162.5 694.2L163 694.6L163.5 695L164 695.2L164.5 695.5L165 695.7L165.5 695.9L166 696.1L166.5 696.3L167 696.4L167.5 696.5L168 696.7L168.5 696.8L169 696.9L169.5 696.9L170 697L170.5 697.1L171 697.2L171.5 697.2L172 697.3L172.5 697.3L173 697.4L173.5 697.5L174 697.5L174.5 697.6L175 697.6L175.5 697.6L176 697.7L176.5 697.7L177 697.8L177.5 697.8L178 697.8L178.5 697.9L179 697.9L179.5 697.9L180 698L180.5 698L181 698L181.5 698.1L182 698.1L182.5 698.1L183 698.1L183.5 698.2L184 698.2L184.5 698.2L185 698.3L185.5 698.3L186 698.3L186.5 698.3L187 698.3L187.5 698.4L188 698.4L188.5 698.4L189 698.4L189.5 698.5L190 698.5L190.5 698.5L191 698.5L191.5 698.5L192 698.6L192.5 698.6L193 698.6L193.5 698.6L194 698.6L194.5 698.6L195 698.7L195.5 698.7L196 698.7L196.5 698.7L197 698.7L197.5 698.7L198 698.8L198.5 698.8L199 698.8L199.5 698.8L200 698.8L200.5 698.8L201 698.8L201.5 698.9L202 698.9L202.5 698.9L203 698.9L203.5 698.9L204 698.9L204.5 698.9L205 699L205.5 699L206 699L206.5 699L207 699L207.5 699L208 699L208.5 699.1L209 699.1" fill="none" stroke="#e2202c" stroke-width="1.3" stroke-linejoin="round" stroke-dasharray="1.3 0.8"/>
<path d="M100 697L100.5 697L101 697L101.5 697L102 697L102.5 697L103 697L103.5 697L104 697L104.5 697L105 697L105.5 697L106 697L106.5 697L107 697L107.5 697L108 697L108.5 697L109 697L109.5 697L110 696.9L110.5 696.9L111 696.9L111.5 696.9L112 696.9L112.5 696.9L113 696.9L113.5 696.9L114 696.9L114.5 696.9L115 696.8L115.5 696.8L116 696.8L116.5 696.8L117 696.8L117.5 696.7L118 696.7L118.5 696.7L119 696.7L119.5 696.6L120 696.6L120.5 696.5L121 696.5L121.5 696.4L122 696.4L122.5 696.3L123 696.2L123.5 696.2L124 696.1L124.5 696L125 695.9L125.5 695.8L126 695.6L126.5 695.5L127 695.3L127.5 695.2L128 695L128.5 694.8L129 694.5L129.5 694.3L130 694L130.5 693.7L131 693.4L131.5 693L132 692.6L132.5 692.2L133 691.8L133.5 691.3L134 690.7L134.5 690.1L135 689.5L135.5 688.8L136 688.1L136.5 687.3L137 686.4L137.5 685.5L138 684.6L138.5 683.5L139 682.4L139.5 681.2L140 680L140.5 678.7L141 677.3L141.5 675.8L142 674.2L142.5 672.6L143 670.9L143.5 669.1L144 667.2L144.5 665.2L145 663.2L145.5 661L146 658.8L146.5 656.6L147 654.2L147.5 651.8L148 649.3L148.5 646.7L149 644.1L149.5 641.4L150 638.7L150.5 636L151 633.2L151.5 630.3L152 627.5L152.5 624.6L153 621.8L153.5 618.9L154 616.1L154.5 613.3L155 610.5L155.5 607.8L156 605.1L156.5 602.5L157 600L157.5 597.6L158 595.2L158.5 593L159 590.9L159.5 589L160 587.1L160.5 585.4L161 583.9L161.5 582.6L162 581.4L162.5 580.4L163 579.6L163.5 579L164 578.6L164.5 578.4L165 578.4L165.5 578.6L166 578.9L166.5 579.5L167 580.3L167.5 581.2L168 582.3L168.5 583.6L169 585.1L169.5 586.7L170 588.4L170.5 590.3L171 592.4L171.5 594.5L172 596.8L172.5 599.2L173 601.6L173.5 604.2L174 606.8L174.5 609.5L175 612.2L175.5 614.9L176 617.7L176.5 620.6L177 623.4L177.5 626.2L178 629L178.5 631.8L179 634.6L179.5 637.4L180 640.1L180.5 642.8L181 645.4L181.5 648L182 650.5L182.5 652.9L183 655.3L183.5 657.6L184 659.9L184.5 662.1L185 664.2L185.5 666.2L186 668.1L186.5 670L187 671.8L187.5 673.5L188 675.1L188.5 676.6L189 678.1L189.5 679.5L190 680.8L190.5 682.1L191 683.2L191.5 684.3L192 685.4L192.5 686.4L193 687.3L193.5 688.1L194 688.9L194.5 689.7L195 690.4L195.5 691L196 691.6L196.5 692.2L197 692.7L197.5 693.2L198 693.6L198.5 694L199 694.4L199.5 694.7L200 695.1L200.5 695.4L201 695.6L201.5 695.9L202 696.1L202.5 696.3L203 696.5L203.5 696.7L204 696.8L204.5 697L205 697.1L205.5 697.2L206 697.4L206.5 697.5L207 697.6L207.5 697.7L208 697.7L208.5 697.8L209 697.9L209.5 697.9L210 698L210.5 698.1L211 698.1L211.5 698.2L212 698.2L212.5 698.3L213 698.3L213.5 698.3L214 698.4L214.5 698.4L215 698.4L215.5 698.5L216 698.5L216.5 698.5L217 698.6L217.5 698.6L218 698.6L218.5 698.6L219 698.7L219.5 698.7L220 698.7L220.5 698.7L221 698.8L221.5 698.8L222 698.8L222.5 698.8L223 698.8L223.5 698.9L224 698.9L224.5 698.9L225 698.9L225.5 698.9L226 699L226.5 699L227 699L227.5 699L228 699L228.5 699.1L229 699.1L229.5 699.1L230 699.1L230.5 699.1L231 699.1L231.5 699.2L232 699.2L232.5 699.2L233 699.2L233.5 699.2L234 699.2L234.5 699.3L235 699.3L235.5 699.3L236 699.3L236.5 699.3L237 699.3L237.5 699.3L238 699.4L238.5 699.4L239 699.4L239.5 699.4L240 699.4L240.5 699.4L241 699.4L241.5 699.5L242 699.5L242.5 699.5L243 699.5L243.5 699.5L244 699.5L244.5 699.5L245 699.5L245.5 699.6L246 699.6L246.5 699.6L247 699.6L247.5 699.6L248 699.6L248.5 699.6L249 699.7L249.5 699.7L250 699.7L250.5 699.7L251 699.7L251.5 699.7L252 699.7L252.5 699.7L253 699.7L253.5 699.8L254 699.8L254.5 699.8L255 699.8L255.5 699.8L256 699.8L256.5 699.8L257 699.8L257.5 699.9L258 699.9" fill="none" stroke="#7d2d80" stroke-width="1.3" stroke-linejoin="round" stroke-dasharray="1.3 0.8"/>
<path d="M145 698L145.5 698L146 698L146.5 697.9L147 697.9L147.5 697.9L148 697.8L148.5 697.8L149 697.8L149.5 697.7L150 697.7L150.5 697.6L151 697.6L151.5 697.5L152 697.4L152.5 697.4L153 697.3L153.5 697.2L154 697.1L154.5 697L155 696.9L155.5 696.8L156 696.7L156.5 696.6L157 696.5L157.5 696.3L158 696.2L158.5 696L159 695.9L159.5 695.7L160 695.5L160.5 695.4L161 695.2L161.5 695L162 694.8L162.5 694.5L163 694.3L163.5 694.1L164 693.8L164.5 693.5L165 693.3L165.5 693L166 692.7L166.5 692.4L167 692.1L167.5 691.7L168 691.4L168.5 691.1L169 690.7L169.5 690.3L170 690L170.5 689.6L171 689.2L171.5 688.8L172 688.4L172.5 687.9L173 687.5L173.5 687.1L174 686.6L174.5 686.2L175 685.7L175.5 685.3L176 684.8L176.5 684.3L177 683.8L177.5 683.4L178 682.9L178.5 682.4L179 681.9L179.5 681.4L180 680.9L180.5 680.5L181 680L181.5 679.5L182 679.1L182.5 678.6L183 678.1L183.5 677.7L184 677.3L184.5 676.8L185 676.4L185.5 676L186 675.6L186.5 675.2L187 674.9L187.5 674.5L188 674.2L188.5 673.9L189 673.6L189.5 673.3L190 673.1L190.5 672.8L191 672.6L191.5 672.4L192 672.2L192.5 672.1L193 672L193.5 671.8L194 671.8L194.5 671.7L195 671.7L195.5 671.7L196 671.7L196.5 671.7L197 671.8L197.5 671.8L198 671.9L198.5 672.1L199 672.2L199.5 672.4L200 672.6L200.5 672.8L201 673L201.5 673.3L202 673.6L202.5 673.9L203 674.2L203.5 674.5L204 674.9L204.5 675.2L205 675.6L205.5 676L206 676.4L206.5 676.9L207 677.3L207.5 677.7L208 678.2L208.5 678.6L209 679.1L209.5 679.6L210 680.1L210.5 680.6L211 681.1L211.5 681.6L212 682.1L212.5 682.5L213 683L213.5 683.5L214 684L214.5 684.5L215 685L215.5 685.5L216 686L216.5 686.5L217 687L217.5 687.4L218 687.9L218.5 688.3L219 688.8L219.5 689.2L220 689.6L220.5 690.1L221 690.5L221.5 690.9L222 691.3L222.5 691.7L223 692L223.5 692.4L224 692.7L224.5 693.1L225 693.4L225.5 693.7L226 694L226.5 694.3L227 694.6L227.5 694.9L228 695.2L228.5 695.4L229 695.7L229.5 695.9L230 696.1L230.5 696.3L231 696.5L231.5 696.7L232 696.9L232.5 697.1L233 697.3L233.5 697.4L234 697.6L234.5 697.7L235 697.9L235.5 698L236 698.2L236.5 698.3L237 698.4L237.5 698.5L238 698.6L238.5 698.7L239 698.8L239.5 698.9L240 698.9L240.5 699L241 699.1L241.5 699.2L242 699.2L242.5 699.3L243 699.3L243.5 699.4L244 699.5L244.5 699.5L245 699.5L245.5 699.6L246 699.6L246.5 699.7" fill="none" stroke="#2a2ab8" stroke-width="1.3" stroke-linejoin="round" stroke-dasharray="1.3 0.8"/>
<path d="M29.6 696.2L31 695.2L32.4 699.3L33.8 695.5L35.2 696.1L36.6 698.3L38 694.8L39.4 695.4L40.8 696.6L42.2 695.9L43.6 694.7L45 696.2L46.4 696L47.8 697.5L49.2 694.3L50.6 695.7L52 698.4L53.4 699.4L54.8 694.7L56.2 697.8L57.6 695.5L59 695.7L60.4 695.7L61.8 696.4L63.2 698.4L64.6 698L66 697.1L67.4 696.6L68.8 697.1L70.2 697L71.6 698.2L73 696.2L74.4 697.1L75.8 697L77.2 697.1L78.6 697.5L80 697.5L81.4 699.1L82.8 697.1L84.2 699.4L85.6 696.8L87 696.5L88.4 697.3L89.8 697.7L91.2 697.6L92.6 699L94 698.8L95.4 697.9L96.8 696.3L98.2 696L99.6 697.5L101 695L102.4 692L103.8 691.9L105.2 691.2L106.6 692.8L108 690L109.4 692.5L110.8 688.6L112.2 685.3L113.6 681.5L115 680.9L116.4 676.6L117.8 673.6L119.2 673.7L120.6 670.3L122 669.2L123.4 663.5L124.8 654.5L126.2 653.5L127.6 641.1L129 639.7L130.4 632.7L131.8 621.1L133.2 612.1L134.6 604.1L136 600.9L137.4 590.9L138.8 582.8L140.2 578L141.6 578.1L143 571.6L144.4 570.9L145.8 569.8L147.2 569.5L148.6 569.3L150 565.7L151.4 566.7L152.8 565.6L154.2 565.7L155.6 569.3L157 565.9L158.4 566.3L159.8 564.4L161.2 563.8L162.6 565.7L164 562.5L165.4 561.4L166.8 562.5L168.2 564.3L169.6 570.5L171 575.4L172.4 578.6L173.8 590.4L175.2 596.5L176.6 603.2L178 605.1L179.4 616.5L180.8 614.5L182.2 623L183.6 626.4L185 629.9L186.4 636.7L187.8 639L189.2 639.4L190.6 645.3L192 651.6L193.4 657.6L194.8 654.1L196.2 659L197.6 663.7L199 664.3L200.4 664.7L201.8 665.1L203.2 666.6L204.6 670.4L206 672.9L207.4 671.8L208.8 674.4L210.2 679.2L211.6 679.6L213 680.4L214.4 682.3L215.8 683L217.2 686.9L218.6 689.2L220 691.1L221.4 690.1L222.8 691.2L224.2 693.1L225.6 694.3L227 694.6L228.4 694.9L229.8 692.8L231.2 692L232.6 696.1L234 695.3L235.4 695.8L236.8 695.1L238.2 695L239.6 699.2L241 698.2L242.4 696.4L243.8 698.8L245.2 699L246.6 699.6L248 702.1L249.4 699.2L250.8 697.6L252.2 699.5L253.6 698.7L255 700.4L256.4 700L257.8 700.3L259.2 699.2L260.6 700.6L262 699.4L263.4 700.8L264.8 699.8L266.2 698.8L267.6 701L269 699.4L270.4 702.3L271.8 701L273.2 701.1L274.6 700.6L276 700.4L277.4 697.4" fill="none" stroke="#111" stroke-width="1.1" stroke-linejoin="round"/>
<path d="M100.1 695.2L100.6 694.9L101.1 694.6L101.6 694.3L102.1 694L102.6 693.7L103.1 693.4L103.6 693.1L104.1 692.7L104.6 692.4L105.1 692.1L105.6 691.7L106.1 691.4L106.6 691.1L107.1 690.8L107.6 690.4L108.1 690.1L108.6 689.7L109.1 689.3L109.6 688.9L110.1 688.4L110.6 687.8L111.1 687.1L111.6 686.3L112.1 685.4L112.6 684.3L113.1 683.3L113.6 682.2L114.1 681.1L114.6 680.1L115.1 679.1L115.6 678.3L116.1 677.5L116.6 676.7L117.1 675.9L117.6 675.2L118.1 674.5L118.6 673.8L119.1 673L119.6 672.2L120.1 671.3L120.6 670.3L121.1 669.3L121.6 668.2L122.1 667L122.6 665.8L123.1 664.5L123.6 663L124.1 661.5L124.6 659.7L125.1 657.6L125.6 655.2L126.1 652.6L126.6 649.9L127.1 647.1L127.6 644.4L128.1 641.7L128.6 639.1L129.1 636.4L129.6 633.7L130.1 631L130.6 628.3L131.1 625.6L131.6 622.9L132.1 620.2L132.6 617.5L133.1 614.8L133.6 612.1L134.1 609.4L134.6 606.8L135.1 604.1L135.6 601.4L136.1 598.7L136.6 595.9L137.1 593L137.6 590.2L138.1 587.4L138.6 584.9L139.1 582.6L139.6 580.6L140.1 578.8L140.6 577.1L141.1 575.5L141.6 574L142.1 572.7L142.6 571.6L143.1 570.8L143.6 570.2L144.1 569.7L144.6 569.2L145.1 568.8L145.6 568.4L146.1 568.1L146.6 567.8L147.1 567.5L147.6 567.4L148.1 567.2L148.6 567.2L149.1 567.2L149.6 567.2L150.1 567.1L150.6 567.1L151.1 567.1L151.6 567.1L152.1 567.1L152.6 567.1L153.1 567.1L153.6 567.1L154.1 567.1L154.6 567.1L155.1 567L155.6 567L156.1 567L156.6 567L157.1 566.9L157.6 566.7L158.1 566.6L158.6 566.4L159.1 566.1L159.6 565.9L160.1 565.6L160.6 565.4L161.1 565.1L161.6 564.8L162.1 564.5L162.6 564.2L163.1 563.9L163.6 563.6L164.1 563.3L164.6 563L165.1 562.6L165.6 562.2L166.1 561.8L166.6 561.6L167.1 561.5L167.6 561.9L168.1 563L168.6 564.7L169.1 566.7L169.6 568.9L170.1 571.2L170.6 573.4L171.1 575.5L171.6 577.9L172.1 580.4L172.6 583L173.1 585.7L173.6 588.3L174.1 590.7L174.6 592.9L175.1 595.1L175.6 597.2L176.1 599.2L176.6 601.2L177.1 603.2L177.6 605.1L178.1 607L178.6 608.9L179.1 610.8L179.6 612.6L180.1 614.4L180.6 616.1L181.1 617.9L181.6 619.6L182.1 621.3L182.6 623L183.1 624.6L183.6 626.3L184.1 627.9L184.6 629.5L185.1 631.1L185.6 632.7L186.1 634.3L186.6 635.8L187.1 637.4L187.6 638.9L188.1 640.4L188.6 641.8L189.1 643.2L189.6 644.6L190.1 646L190.6 647.3L191.1 648.6L191.6 649.8L192.1 651L192.6 652.1L193.1 653.2L193.6 654.2L194.1 655.2L194.6 656.2L195.1 657.1L195.6 658L196.1 658.9L196.6 659.7L197.1 660.5L197.6 661.2L198.1 662L198.6 662.7L199.1 663.4L199.6 664.1L200.1 664.9L200.6 665.6L201.1 666.4L201.6 667.1L202.1 667.9L202.6 668.6L203.1 669.4L203.6 670.1L204.1 670.8L204.6 671.6L205.1 672.3L205.6 672.9L206.1 673.6L206.6 674.3L207.1 675L207.6 675.6L208.1 676.3L208.6 676.9L209.1 677.5L209.6 678.1L210.1 678.6L210.6 679.2L211.1 679.7L211.6 680.2L212.1 680.7L212.6 681.2L213.1 681.7L213.6 682.2L214.1 682.7L214.6 683.1L215.1 683.6L215.6 684L216.1 684.5L216.6 684.9L217.1 685.4L217.6 685.8L218.1 686.3L218.6 686.7L219.1 687.2L219.6 687.6L220.1 688L220.6 688.5L221.1 688.8L221.6 689.2L222.1 689.6L222.6 689.9L223.1 690.3L223.6 690.6L224.1 690.9L224.6 691.2L225.1 691.4L225.6 691.7L226.1 692L226.6 692.2L227.1 692.5L227.6 692.7L228.1 693L228.6 693.2L229.1 693.4L229.6 693.6L230.1 693.8L230.6 694.1L231.1 694.3L231.6 694.5L232.1 694.7L232.6 694.9L233.1 695.1L233.6 695.2L234.1 695.4L234.6 695.6L235.1 695.8L235.6 696L236.1 696.1L236.6 696.3L237.1 696.5L237.6 696.6L238.1 696.8L238.6 696.9L239.1 697.1L239.6 697.2L240.1 697.3L240.6 697.5L241.1 697.6L241.6 697.7L242.1 697.8L242.6 698L243.1 698.1L243.6 698.2L244.1 698.3L244.6 698.4L245.1 698.5L245.6 698.6L246.1 698.7L246.6 698.8L247.1 698.9L247.6 699L248.1 699.1L248.6 699.2L249.1 699.2L249.6 699.3L250.1 699.3L250.6 699.3L251.1 699.4L251.6 699.4L252.1 699.5L252.6 699.5L253.1 699.5L253.6 699.6L254.1 699.6L254.6 699.6L255.1 699.7L255.6 699.7L256.1 699.7L256.6 699.8L257.1 699.8L257.6 699.8L258.1 699.9L258.6 699.9L259.1 699.9L259.6 699.9L260.1 700L260.6 700L261.1 700L261.6 700L262.1 700.1L262.6 700.1L263.1 700.1L263.6 700.1L264.1 700.2L264.6 700.2L265.1 700.2L265.6 700.2L266.1 700.2L266.6 700.3L267.1 700.3L267.6 700.3L268.1 700.3L268.6 700.3L269.1 700.4L269.6 700.4L270.1 700.4L270.6 700.4L271.1 700.4L271.6 700.4L272.1 700.4L272.6 700.4L273.1 700.4L273.6 700.5L274.1 700.5L274.6 700.5L275.1 700.5L275.6 700.5L276.1 700.5L276.6 700.5L277.1 700.5L277.6 700.5L278.1 700.5L278.6 700.5L278.7 700.5" fill="none" stroke="#111" stroke-width="1.2" stroke-linejoin="round"/>
<text x="128.4" y="666.4" font-size="9" fill="#111" font-weight="bold" text-anchor="middle">*</text>
<text x="142.8" y="621.7" font-size="9" fill="#111" font-weight="bold" text-anchor="middle">*</text>
<text x="202.2" y="658.6" font-size="9" fill="#111" font-weight="bold" text-anchor="middle">*</text>
<text x="160.4" y="555.4" font-size="10.4" fill="#111" font-weight="bold" text-anchor="start">SO<tspan font-size="6.4" dy="2.9">2</tspan></text>
<rect x="331.6" y="526.6" width="243.9" height="181.3" fill="none" stroke="#2a2a2a" stroke-width="1.1"/>
<path d="M331.6 707.9V704.3M412.9 707.9V704.3M494.2 707.9V704.3M575.5 707.9V704.3M372.2 707.9V705.7M453.6 707.9V705.7M534.9 707.9V705.7" stroke="#2a2a2a" stroke-width="1" fill="none"/>
<text x="331.6" y="722.8" font-size="13.2" fill="#111" font-weight="bold" text-anchor="middle">540</text>
<text x="412.9" y="722.8" font-size="13.2" fill="#111" font-weight="bold" text-anchor="middle">535</text>
<text x="494.2" y="722.8" font-size="13.2" fill="#111" font-weight="bold" text-anchor="middle">530</text>
<text x="575.5" y="722.8" font-size="13.2" fill="#111" font-weight="bold" text-anchor="middle">525</text>
<text x="330.9" y="517.9" font-size="13.55" fill="#111" font-weight="bold" text-anchor="start">NMC overcharge, O 1s</text>
<text transform="translate(325.5 617) rotate(-90)" font-size="13.2" font-weight="bold" text-anchor="middle" fill="#111">a. u.</text>
<text x="394" y="741.2" font-size="13.5" fill="#111" font-weight="bold" text-anchor="start">Binding Energy (eV)</text>
<path d="M331.8 688.3L395 688L420.5 688L450 689.6L488 691.5L525 692.2L575.5 692.4" fill="none" stroke="#333" stroke-width="1.0" stroke-linejoin="round"/>
<path d="M485 689.6L485.5 689.3L486 688.9L486.5 688.5L487 688.1L487.5 687.7L488 687.3L488.5 686.8L489 686.3L489.5 685.9L490 685.5L490.5 685.2L491 684.9L491.5 684.7L492 684.6L492.5 684.6L493 684.6L493.5 684.8L494 685L494.5 685.3L495 685.6L495.5 686L496 686.5L496.5 686.9L497 687.4L497.5 687.9L498 688.4L498.5 688.8L499 689.2L499.5 689.6L500 690L500.5 690.3L501 690.6L501.5 690.8L502 691L502.5 691.2L503 691.3L503.5 691.4" fill="none" stroke="#e2202c" stroke-width="1.3" stroke-linejoin="round" stroke-dasharray="1.3 0.8"/>
<path d="M486 691.1L486.5 691L487 691L487.5 690.9L488 690.8L488.5 690.6L489 690.4L489.5 690.2L490 690L490.5 689.7L491 689.5L491.5 689.1L492 688.8L492.5 688.4L493 688L493.5 687.6L494 687.2L494.5 686.8L495 686.3L495.5 685.9L496 685.5L496.5 685.1L497 684.8L497.5 684.5L498 684.2L498.5 684L499 683.8L499.5 683.8L500 683.7L500.5 683.8L501 683.9L501.5 684L502 684.3L502.5 684.6L503 684.9L503.5 685.3L504 685.7L504.5 686.1L505 686.5L505.5 687L506 687.4L506.5 687.9L507 688.3L507.5 688.7L508 689.1L508.5 689.5L509 689.8L509.5 690.1L510 690.4L510.5 690.6L511 690.9L511.5 691L512 691.2L512.5 691.4L513 691.5L513.5 691.6L514 691.7" fill="none" stroke="#2a2ab8" stroke-width="1.3" stroke-linejoin="round" stroke-dasharray="1.3 0.8"/>
<path d="M331.8 688L333.3 689.4L334.8 688.7L336.3 687.1L337.8 684.9L339.3 689.7L340.8 690L342.3 686.3L343.8 690.7L345.3 687.8L346.8 692L348.3 689.2L349.8 687.9L351.3 690.1L352.8 688.5L354.3 688.6L355.8 688.5L357.3 688.1L358.8 689.2L360.3 689.5L361.8 688.8L363.3 690.9L364.8 686.4L366.3 687.7L367.8 689.5L369.3 686.6L370.8 690.5L372.3 689.3L373.8 688L375.3 689L376.8 687.4L378.3 686.1L379.8 689.4L381.3 689.5L382.8 688.3L384.3 688.1L385.8 685.1L387.3 686.9L388.8 687.4L390.3 688.4L391.8 689.9L393.3 687L394.8 686L396.3 687.7L397.8 685.6L399.3 683.2L400.8 686.3L402.3 683L403.8 683L405.3 682L406.8 683.5L408.3 683.8L409.8 680.8L411.3 680.6L412.8 678L414.3 680.6L415.8 678.1L417.3 673.7L418.8 673.8L420.3 672.7L421.8 670.3L423.3 666.7L424.8 665.6L426.3 664.9L427.8 662.7L429.3 658.7L430.8 657.3L432.3 651L433.8 644.4L435.3 641.2L436.8 635.3L438.3 627.4L439.8 621.3L441.3 613.6L442.8 602.6L444.3 592.2L445.8 585L447.3 575.4L448.8 570.4L450.3 563.3L451.8 557.7L453.3 555.1L454.8 547.8L456.3 549.8L457.8 546.5L459.3 553.6L460.8 563.3L462.3 571.8L463.8 584.3L465.3 592.3L466.8 603.9L468.3 612.1L469.8 622.7L471.3 632.3L472.8 641.8L474.3 647.9L475.8 653.8L477.3 661.6L478.8 664.1L480.3 667.8L481.8 670.4L483.3 674.9L484.8 677.3L486.3 678.2L487.8 678.2L489.3 682.1L490.8 683.7L492.3 683.3L493.8 682L495.3 681.2L496.8 681.9L498.3 684.5L499.8 682.8L501.3 680.3L502.8 684.1L504.3 683.6L505.8 688.5L507.3 686.1L508.8 687.7L510.3 688.9L511.8 689.7L513.3 689.9L514.8 690.3L516.3 690.4L517.8 690.3L519.3 690.9L520.8 690.1L522.3 691.2L523.8 691.2L525.3 691.6L526.8 691.6L528.3 692.1L529.8 693L531.3 691.9L532.8 692.5L534.3 692.8L535.8 692L537.3 692.3L538.8 693L540.3 690.2L541.8 693.5L543.3 691.9L544.8 689L546.3 693.4L547.8 691L549.3 693.9L550.8 691.3L552.3 692.4L553.8 693.6L555.3 691.6L556.8 691.3L558.3 692.6L559.8 694.7L561.3 694.3L562.8 694.7L564.3 693.3L565.8 693.5L567.3 694.3L568.8 693.6L570.3 691.7L571.8 693.9L573.3 692.1L574.8 691.7" fill="none" stroke="#111" stroke-width="1.2" stroke-linejoin="round"/>
<path d="M396.8 688.2L397.3 688.2L397.8 688.2L398.3 688.2L398.8 688.2L399.3 688.2L399.8 688.2L400.3 688.1L400.8 688.1L401.3 688.1L401.8 688.1L402.3 688.1L402.8 688L403.3 688L403.8 688L404.3 688L404.8 687.9L405.3 687.9L405.8 687.9L406.3 687.8L406.8 687.8L407.3 687.7L407.8 687.7L408.3 687.6L408.8 687.5L409.3 687.4L409.8 687.2L410.3 687L410.8 686.8L411.3 686.6L411.8 686.4L412.3 686.1L412.8 685.9L413.3 685.6L413.8 685.4L414.3 685.1L414.8 684.8L415.3 684.5L415.8 684.2L416.3 683.8L416.8 683.5L417.3 683.1L417.8 682.7L418.3 682.2L418.8 681.8L419.3 681.3L419.8 680.8L420.3 680.3L420.8 679.8L421.3 679.2L421.8 678.5L422.3 677.8L422.8 677.1L423.3 676.3L423.8 675.5L424.3 674.6L424.8 673.8L425.3 672.9L425.8 672.1L426.3 671.2L426.8 670.3L427.3 669.4L427.8 668.4L428.3 667.4L428.8 666.3L429.3 665.1L429.8 663.7L430.3 662.2L430.8 660.5L431.3 658.7L431.8 656.9L432.3 654.9L432.8 652.8L433.3 650.5L433.8 648.1L434.3 645.7L434.8 643.4L435.3 641.2L435.8 638.9L436.3 636.7L436.8 634.4L437.3 632.1L437.8 629.7L438.3 627.3L438.8 624.8L439.3 622.3L439.8 619.8L440.3 617.2L440.8 614.5L441.3 611.7L441.8 608.8L442.3 605.8L442.8 602.7L443.3 599.7L443.8 596.7L444.3 593.7L444.8 591L445.3 588.2L445.8 585.6L446.3 582.9L446.8 580.4L447.3 577.8L447.8 575.4L448.3 572.9L448.8 570.6L449.3 568.3L449.8 566.1L450.3 563.9L450.8 561.8L451.3 559.7L451.8 557.5L452.3 555.4L452.8 553.9L453.3 553L453.8 552.4L454.3 551.9L454.8 551.8L455.3 551.9L455.8 552.1L456.3 552.4L456.8 552.8L457.3 553.5L457.8 554.5L458.3 555.6L458.8 556.6L459.3 557.6L459.8 558.9L460.3 560.7L460.8 563.6L461.3 566.9L461.8 570.1L462.3 573.3L462.8 576.6L463.3 579.9L463.8 583.2L464.3 586.6L464.8 590.1L465.3 593.5L465.8 596.8L466.3 600L466.8 603.3L467.3 606.5L467.8 609.8L468.3 613L468.8 616.3L469.3 619.8L469.8 623.4L470.3 626.8L470.8 629.7L471.3 632.2L471.8 634.6L472.3 636.9L472.8 639.3L473.3 641.9L473.8 644.5L474.3 647.2L474.8 649.7L475.3 651.9L475.8 654L476.3 656L476.8 657.8L477.3 659.6L477.8 661.2L478.3 662.8L478.8 664.3L479.3 665.8L479.8 667.2L480.3 668.5L480.8 669.7L481.3 670.9L481.8 672L482.3 673.1L482.8 674.1L483.3 675.1L483.8 676L484.3 676.8L484.8 677.7L485.3 678.5L485.8 679.3L486.3 680.1L486.8 680.8L487.3 681.5L487.8 682.1L488.3 682.6L488.8 683.1L489.3 683.5L489.8 684L490.3 684.3L490.8 684.7L491.3 685L491.8 685.4L492.3 685.7L492.8 686L493.3 686.3L493.8 686.6L494.3 686.8L494.8 687.1L495.3 687.3L495.8 687.6L496.3 687.8L496.8 688L497.3 688.2L497.8 688.4L498.3 688.6L498.8 688.8L499.3 689L499.8 689.1L500.3 689.3L500.8 689.5L501.3 689.6L501.8 689.8L502.3 689.9L502.8 690L503.3 690.2L503.8 690.3L504.3 690.4L504.8 690.5L505.3 690.5L505.8 690.6L506.3 690.7L506.8 690.8L507.3 690.9L507.8 690.9L508.3 691L508.8 691.1L509.3 691.1L509.8 691.2L510.3 691.3L510.8 691.3L511.3 691.4L511.8 691.4L512.3 691.5L512.8 691.5L513.3 691.6L513.8 691.6L514.3 691.6L514.8 691.7L515.3 691.7L515.8 691.7L516.3 691.7L516.4 691.7" fill="none" stroke="#111" stroke-width="1.1" stroke-linejoin="round"/>
<text x="442.1" y="543.7" font-size="10.3" fill="#111" font-weight="bold" text-anchor="start">SO<tspan font-size="6.4" dy="2.9">2</tspan></text>
<text x="488" y="671.4" font-size="9.8" fill="#111" font-weight="bold" text-anchor="start">bulk</text>
<rect x="32.3" y="792.3" width="245.9" height="182.8" fill="none" stroke="#2a2a2a" stroke-width="1.1"/>
<path d="M89 975.1V971.5M164.7 975.1V971.5M240.4 975.1V971.5M51.2 975.1V972.9M126.9 975.1V972.9M202.5 975.1V972.9" stroke="#2a2a2a" stroke-width="1" fill="none"/>
<text x="89" y="990.3" font-size="13.4" fill="#111" font-weight="bold" text-anchor="middle">692</text>
<text x="164.7" y="990.3" font-size="13.4" fill="#111" font-weight="bold" text-anchor="middle">688</text>
<text x="240.4" y="990.3" font-size="13.4" fill="#111" font-weight="bold" text-anchor="middle">684</text>
<text x="30" y="784" font-size="13.75" fill="#111" font-weight="bold" text-anchor="start">LTO overcharge, F 1s</text>
<text transform="translate(22.1 874.4) rotate(-90)" font-size="13.4" font-weight="bold" text-anchor="middle" fill="#111">a. u.</text>
<text x="119.6" y="1007.1" font-size="13.6" fill="#111" font-weight="bold" text-anchor="start">Binding Energy (eV)</text>
<path d="M81.5 958.8L278.2 962.4" fill="none" stroke="#333" stroke-width="1.0" stroke-linejoin="round"/>
<path d="M82 955.4L82.5 955.2L83 954.9L83.5 954.6L84 954.2L84.5 953.9L85 953.5L85.5 953.1L86 952.7L86.5 952.3L87 951.8L87.5 951.3L88 950.8L88.5 950.2L89 949.6L89.5 949L90 948.3L90.5 947.6L91 946.9L91.5 946.1L92 945.3L92.5 944.5L93 943.6L93.5 942.7L94 941.7L94.5 940.7L95 939.6L95.5 938.5L96 937.4L96.5 936.2L97 935L97.5 933.7L98 932.4L98.5 931L99 929.6L99.5 928.1L100 926.6L100.5 925.1L101 923.5L101.5 921.9L102 920.2L102.5 918.5L103 916.7L103.5 914.9L104 913.1L104.5 911.2L105 909.3L105.5 907.4L106 905.4L106.5 903.4L107 901.4L107.5 899.4L108 897.3L108.5 895.3L109 893.2L109.5 891.1L110 889L110.5 886.9L111 884.8L111.5 882.7L112 880.7L112.5 878.6L113 876.5L113.5 874.5L114 872.5L114.5 870.5L115 868.6L115.5 866.7L116 864.8L116.5 863L117 861.2L117.5 859.5L118 857.9L118.5 856.3L119 854.7L119.5 853.3L120 851.9L120.5 850.6L121 849.4L121.5 848.2L122 847.1L122.5 846.2L123 845.3L123.5 844.5L124 843.8L124.5 843.2L125 842.7L125.5 842.3L126 842L126.5 841.8L127 841.7L127.5 841.6L128 841.7L128.5 841.9L129 842.2L129.5 842.6L130 843.1L130.5 843.7L131 844.3L131.5 845.1L132 845.9L132.5 846.8L133 847.8L133.5 848.9L134 850.1L134.5 851.3L135 852.7L135.5 854.1L136 855.5L136.5 857L137 858.6L137.5 860.3L138 862L138.5 863.7L139 865.5L139.5 867.3L140 869.2L140.5 871.1L141 873L141.5 875L142 877L142.5 879L143 881L143.5 883.1L144 885.1L144.5 887.2L145 889.2L145.5 891.3L146 893.3L146.5 895.4L147 897.4L147.5 899.4L148 901.4L148.5 903.4L149 905.3L149.5 907.3L150 909.2L150.5 911.1L151 912.9L151.5 914.7L152 916.5L152.5 918.3L153 920L153.5 921.6L154 923.3L154.5 924.9L155 926.4L155.5 927.9L156 929.4L156.5 930.8L157 932.2L157.5 933.6L158 934.9L158.5 936.1L159 937.3L159.5 938.5L160 939.6L160.5 940.7L161 941.8L161.5 942.8L162 943.7L162.5 944.7L163 945.6L163.5 946.4L164 947.2L164.5 948L165 948.7L165.5 949.4L166 950.1L166.5 950.8L167 951.4L167.5 951.9L168 952.5L168.5 953L169 953.5L169.5 954L170 954.4L170.5 954.8L171 955.2L171.5 955.6L172 955.9L172.5 956.3L173 956.6L173.5 956.9L174 957.1L174.5 957.4L175 957.6L175.5 957.9L176 958.1L176.5 958.3L177 958.5L177.5 958.6L178 958.8L178.5 958.9L179 959.1L179.5 959.2L180 959.3L180.5 959.5L181 959.6L181.5 959.7L182 959.7L182.5 959.8L183 959.9L183.5 960L184 960.1L184.5 960.1L185 960.2L185.5 960.2L186 960.3L186.5 960.3L187 960.4L187.5 960.4" fill="none" stroke="#2a2ab8" stroke-width="1.3" stroke-linejoin="round" stroke-dasharray="1.3 0.8"/>
<path d="M140 959.6L140.5 959.5L141 959.5L141.5 959.5L142 959.5L142.5 959.4L143 959.4L143.5 959.3L144 959.3L144.5 959.2L145 959.2L145.5 959.1L146 959L146.5 958.9L147 958.8L147.5 958.7L148 958.6L148.5 958.5L149 958.4L149.5 958.2L150 958.1L150.5 957.9L151 957.7L151.5 957.5L152 957.3L152.5 957.1L153 956.9L153.5 956.6L154 956.3L154.5 956L155 955.7L155.5 955.4L156 955L156.5 954.6L157 954.2L157.5 953.8L158 953.3L158.5 952.8L159 952.3L159.5 951.8L160 951.2L160.5 950.5L161 949.9L161.5 949.2L162 948.5L162.5 947.7L163 946.9L163.5 946.1L164 945.2L164.5 944.2L165 943.3L165.5 942.3L166 941.2L166.5 940.1L167 938.9L167.5 937.7L168 936.5L168.5 935.2L169 933.8L169.5 932.5L170 931L170.5 929.5L171 928L171.5 926.4L172 924.8L172.5 923.1L173 921.4L173.5 919.6L174 917.8L174.5 915.9L175 914L175.5 912.1L176 910.1L176.5 908.1L177 906L177.5 903.9L178 901.8L178.5 899.7L179 897.5L179.5 895.3L180 893.1L180.5 890.9L181 888.7L181.5 886.5L182 884.2L182.5 882L183 879.7L183.5 877.5L184 875.3L184.5 873.1L185 870.9L185.5 868.8L186 866.7L186.5 864.6L187 862.5L187.5 860.5L188 858.5L188.5 856.6L189 854.8L189.5 853L190 851.3L190.5 849.6L191 848L191.5 846.5L192 845.1L192.5 843.7L193 842.4L193.5 841.3L194 840.2L194.5 839.2L195 838.3L195.5 837.5L196 836.8L196.5 836.3L197 835.8L197.5 835.4L198 835.1L198.5 835L199 835L199.5 835L200 835.2L200.5 835.5L201 835.9L201.5 836.4L202 837L202.5 837.7L203 838.5L203.5 839.4L204 840.4L204.5 841.5L205 842.7L205.5 844L206 845.3L206.5 846.8L207 848.3L207.5 849.9L208 851.6L208.5 853.3L209 855.2L209.5 857L210 859L210.5 860.9L211 863L211.5 865L212 867.1L212.5 869.3L213 871.4L213.5 873.6L214 875.9L214.5 878.1L215 880.3L215.5 882.6L216 884.8L216.5 887.1L217 889.3L217.5 891.6L218 893.8L218.5 896L219 898.2L219.5 900.4L220 902.6L220.5 904.7L221 906.8L221.5 908.9L222 910.9L222.5 912.9L223 914.9L223.5 916.8L224 918.7L224.5 920.5L225 922.3L225.5 924L226 925.7L226.5 927.4L227 929L227.5 930.6L228 932.1L228.5 933.5L229 934.9L229.5 936.3L230 937.6L230.5 938.9L231 940.1L231.5 941.3L232 942.4L232.5 943.5L233 944.5L233.5 945.5L234 946.5L234.5 947.4L235 948.2L235.5 949L236 949.8L236.5 950.6L237 951.3L237.5 952L238 952.6L238.5 953.2L239 953.8L239.5 954.3L240 954.8L240.5 955.3L241 955.8L241.5 956.2L242 956.6L242.5 957L243 957.3L243.5 957.7L244 958L244.5 958.3L245 958.6L245.5 958.8L246 959.1L246.5 959.3L247 959.5L247.5 959.7L248 959.9L248.5 960L249 960.2L249.5 960.3L250 960.5L250.5 960.6L251 960.7L251.5 960.8L252 960.9L252.5 961L253 961.1L253.5 961.2L254 961.3L254.5 961.4L255 961.4L255.5 961.5L256 961.5L256.5 961.6L257 961.6L257.5 961.7L258 961.7" fill="none" stroke="#2e8a2e" stroke-width="1.3" stroke-linejoin="round" stroke-dasharray="1.3 0.8"/>
<path d="M204.5 960.7L205 960.7L205.5 960.6L206 960.6L206.5 960.5L207 960.4L207.5 960.3L208 960.2L208.5 960.1L209 959.9L209.5 959.8L210 959.6L210.5 959.4L211 959.2L211.5 958.9L212 958.6L212.5 958.3L213 958L213.5 957.6L214 957.2L214.5 956.8L215 956.3L215.5 955.8L216 955.3L216.5 954.7L217 954.1L217.5 953.4L218 952.7L218.5 951.9L219 951.1L219.5 950.3L220 949.4L220.5 948.5L221 947.5L221.5 946.5L222 945.5L222.5 944.4L223 943.3L223.5 942.2L224 941.1L224.5 939.9L225 938.8L225.5 937.6L226 936.5L226.5 935.3L227 934.2L227.5 933.1L228 932L228.5 930.9L229 929.9L229.5 929L230 928.1L230.5 927.2L231 926.4L231.5 925.7L232 925.1L232.5 924.5L233 924.1L233.5 923.7L234 923.4L234.5 923.2L235 923.1L235.5 923.1L236 923.2L236.5 923.4L237 923.7L237.5 924.1L238 924.5L238.5 925.1L239 925.7L239.5 926.4L240 927.2L240.5 928.1L241 929L241.5 930L242 931L242.5 932L243 933.1L243.5 934.3L244 935.4L244.5 936.6L245 937.7L245.5 938.9L246 940.1L246.5 941.3L247 942.4L247.5 943.5L248 944.7L248.5 945.7L249 946.8L249.5 947.8L250 948.8L250.5 949.8L251 950.7L251.5 951.5L252 952.4L252.5 953.2L253 953.9L253.5 954.6L254 955.3L254.5 955.9L255 956.4L255.5 957L256 957.5L256.5 957.9L257 958.4L257.5 958.7L258 959.1L258.5 959.4L259 959.7L259.5 960L260 960.2L260.5 960.5L261 960.7L261.5 960.9L262 961L262.5 961.2L263 961.3L263.5 961.4L264 961.5L264.5 961.6L265 961.7L265.5 961.8L266 961.8" fill="none" stroke="#e2202c" stroke-width="1.3" stroke-linejoin="round" stroke-dasharray="1.3 0.8"/>
<path d="M81.5 958.5L82 958L82.5 957.5L83 956.9L83.5 956.4L84 955.8L84.5 955.1L85 954.5L85.5 953.8L86 953.2L86.5 952.5L87 951.8L87.5 951L88 950.2L88.5 949.4L89 948.5L89.5 947.5L90 946.5L90.5 945.3L91 944.1L91.5 942.9L92 941.5L92.5 940.2L93 938.8L93.5 937.4L94 935.9L94.5 934.5L95 933L95.5 931.6L96 930.2L96.5 928.8L97 927.5L97.5 926.1L98 924.8L98.5 923.5L99 922.1L99.5 920.8L100 919.4L100.5 918.1L101 916.7L101.5 915.4L102 914L102.5 912.6L103 911.3L103.5 910L104 908.7L104.5 907.4L105 906L105.5 904.6L106 903.2L106.5 901.6L107 900L107.5 898.2L108 896.3L108.5 894.2L109 892L109.5 889.7L110 887.4L110.5 885L111 882.6L111.5 880.2L112 877.8L112.5 875.5L113 873.2L113.5 871.1L114 869.1L114.5 867.2L115 865.5L115.5 863.9L116 862.4L116.5 860.9L117 859.4L117.5 858L118 856.6L118.5 855.3L119 854L119.5 852.7L120 851.3L120.5 850L121 848.8L121.5 847.7L122 846.8L122.5 846.1L123 845.3L123.5 844.6L124 844L124.5 843.3L125 842.8L125.5 842.3L126 841.9L126.5 841.6L127 841.4L127.5 841.4L128 841.5L128.5 841.6L129 841.8L129.5 842.1L130 842.4L130.5 842.8L131 843.2L131.5 843.6L132 844L132.5 844.5L133 845.3L133.5 846.2L134 847.2L134.5 848.3L135 849.5L135.5 850.8L136 852L136.5 853.3L137 854.8L137.5 856.3L138 858L138.5 859.7L139 861.5L139.5 863.2L140 865L140.5 866.8L141 868.6L141.5 870.5L142 872.4L142.5 874.3L143 876.2L143.5 878.1L144 880L144.5 881.9L145 883.8L145.5 885.7L146 887.6L146.5 889.5L147 891.4L147.5 893.2L148 895L148.5 896.7L149 898.4L149.5 900.1L150 901.8L150.5 903.4L151 904.9L151.5 906.5L152 908L152.5 909.5L153 911L153.5 912.4L154 913.8L154.5 915.2L155 916.5L155.5 917.8L156 919L156.5 920.2L157 921.3L157.5 922.4L158 923.5L158.5 924.5L159 925.5L159.5 926.3L160 927L160.5 927.7L161 928.3L161.5 929L162 929.6L162.5 930.1L163 930.5L163.5 930.8L164 931L164.5 931L165 930.8L165.5 930.6L166 930.3L166.5 929.9L167 929.5L167.5 929L168 928.5L168.5 928L169 927.3L169.5 926.5L170 925.6L170.5 924.6L171 923.5L171.5 922.4L172 921.2L172.5 919.9L173 918.6L173.5 917.3L174 915.9L174.5 914.2L175 912.5L175.5 910.6L176 908.7L176.5 906.7L177 904.7L177.5 902.6L178 900.4L178.5 898.1L179 895.8L179.5 893.5L180 891.3L180.5 889.2L181 887L181.5 884.9L182 882.8L182.5 880.7L183 878.7L183.5 876.7L184 874.8L184.5 872.8L185 870.9L185.5 869.1L186 867.2L186.5 865.4L187 863.5L187.5 861.7L188 859.9L188.5 858.1L189 856.3L189.5 854.6L190 853L190.5 851.4L191 849.9L191.5 848.4L192 847L192.5 845.7L193 844.4L193.5 843.2L194 842L194.5 840.8L195 839.6L195.5 838.6L196 837.7L196.5 837L197 836.4L197.5 835.7L198 835.2L198.5 834.8L199 834.7L199.5 834.7L200 834.9L200.5 835.1L201 835.4L201.5 835.7L202 836.1L202.5 836.6L203 837L203.5 837.6L204 838.3L204.5 839.2L205 840.3L205.5 841.4L206 842.6L206.5 843.8L207 845L207.5 846.2L208 847.6L208.5 849L209 850.4L209.5 852L210 853.5L210.5 855.1L211 856.8L211.5 858.4L212 860L212.5 861.7L213 863.4L213.5 865.2L214 867L214.5 868.8L215 870.7L215.5 872.5L216 874.4L216.5 876.1L217 877.8L217.5 879.5L218 881L218.5 882.5L219 883.9L219.5 885.3L220 886.7L220.5 888.1L221 889.5L221.5 890.8L222 892L222.5 893.3L223 894.4L223.5 895.5L224 896.6L224.5 897.6L225 898.6L225.5 899.4L226 900.3L226.5 901.1L227 901.9L227.5 902.6L228 903.3L228.5 904L229 904.7L229.5 905.4L230 906.1L230.5 906.8L231 907.5L231.5 908.2L232 909L232.5 909.8L233 910.6L233.5 911.3L234 912.1L234.5 912.9L235 913.7L235.5 914.4L236 915.2L236.5 916L237 916.8L237.5 917.6L238 918.5L238.5 919.3L239 920.2L239.5 921.1L240 922L240.5 922.9L241 923.9L241.5 924.9L242 925.9L242.5 927L243 928.2L243.5 929.3L244 930.4L244.5 931.6L245 932.7L245.5 933.8L246 934.9L246.5 936L247 937L247.5 938L248 939L248.5 940L249 940.9L249.5 941.9L250 942.8L250.5 943.8L251 944.7L251.5 945.6L252 946.4L252.5 947.3L253 948.1L253.5 948.9L254 949.7L254.5 950.4L255 951.2L255.5 951.9L256 952.6L256.5 953.3L257 953.9L257.5 954.5L258 955L258.5 955.5L259 956L259.5 956.4L260 956.9L260.5 957.3L261 957.7L261.5 958.1L262 958.4L262.5 958.8L263 959.1L263.5 959.4L264 959.6L264.5 959.8L265 960L265.5 960.2L266 960.4L266.5 960.6L267 960.8L267.5 961L268 961.1L268.5 961.2L269 961.3L269.5 961.4L270 961.5L270.5 961.6L271 961.6L271.5 961.7L272 961.7L272.5 961.7L273 961.8L273.5 961.8L274 961.9L274.5 961.9L275 961.9L275.5 961.9L276 962L276.5 962L277 962L277.5 962L278 962L278.2 962" fill="none" stroke="#111" stroke-width="1.5" stroke-linejoin="round"/>
<path d="M32.3 964.3L34.7 955.7L37.1 957.7L39.5 959.3L41.9 954.5L44.3 957.8L46.7 957.8L49.1 950.8L51.5 962L53.9 960.4L56.3 955.5L58.7 957.3L61.1 949.1L63.5 957.1L65.9 957.2L68.3 952.4L70.7 960.5L73.1 958.8L75.5 959.5L77.9 952.3L80.3 965.1L82.7 957.9L85.1 952.8L87.5 959.3L89.9 946.5L92.3 934.8L94.7 932.2L97.1 917.8L99.5 925.1L101.9 912.6L104.3 904.8L106.7 905.4L109.1 884.7L111.5 882.4L113.9 860.9L116.3 858.7L118.7 849.7L121.1 854.7L123.5 852L125.9 833.9L128.3 845.1L130.7 842.2L133.1 847.8L135.5 847.6L137.9 850.5L140.3 858.5L142.7 876.6L145.1 893.5L147.5 894.3L149.9 899.3L152.3 916.8L154.7 916.7L157.1 922L159.5 927.3L161.9 928.9L164.3 929.7L166.7 923.8L169.1 929.2L171.5 922L173.9 921.1L176.3 906L178.7 889.3L181.1 886.2L183.5 883.8L185.9 866L188.3 855.1L190.7 845.8L193.1 839.7L195.5 837.4L197.9 826.3L200.3 841.3L202.7 835.5L205.1 840.9L207.5 852.3L209.9 859.5L212.3 860.1L214.7 871L217.1 881.2L219.5 884.5L221.9 884.4L224.3 899.9L226.7 905.1L229.1 906.6L231.5 904.4L233.9 911.1L236.3 913.3L238.7 918.4L241.1 929.4L243.5 935.6L245.9 928.7L248.3 941.8L250.7 946.9L253.1 948.2L255.5 951.6L257.9 952.2L260.3 956.9L262.7 968L265.1 963.6L267.5 959.6L269.9 959.6L272.3 958.3L274.7 963.4L277.1 963.6" fill="none" stroke="#111" stroke-width="1.25" stroke-linejoin="round"/>
<text x="117.1" y="822.3" font-size="10.8" fill="#111" font-weight="bold" text-anchor="start">C-F</text>
<text x="199.7" y="827" font-size="14.5" fill="#111" font-weight="bold" text-anchor="middle">*</text>
<text x="243.2" y="916.5" font-size="14.5" fill="#111" font-weight="bold" text-anchor="middle">*</text>
<rect x="331.8" y="792.3" width="246.5" height="182.9" fill="none" stroke="#2a2a2a" stroke-width="1.1"/>
<path d="M388.7 975.2V971.6M464.5 975.2V971.6M540.4 975.2V971.6M350.8 975.2V973M426.6 975.2V973M502.5 975.2V973" stroke="#2a2a2a" stroke-width="1" fill="none"/>
<text x="388.7" y="990.2" font-size="13.4" fill="#111" font-weight="bold" text-anchor="middle">692</text>
<text x="464.5" y="990.2" font-size="13.4" fill="#111" font-weight="bold" text-anchor="middle">688</text>
<text x="540.4" y="990.2" font-size="13.4" fill="#111" font-weight="bold" text-anchor="middle">684</text>
<text x="330.9" y="784" font-size="13.75" fill="#111" font-weight="bold" text-anchor="start">NMC overcharge, F 1s</text>
<text transform="translate(320.5 883.7) rotate(-90)" font-size="13.4" font-weight="bold" text-anchor="middle" fill="#111">a. u.</text>
<text x="401.1" y="1006.2" font-size="13.6" fill="#111" font-weight="bold" text-anchor="start">Binding Energy (eV)</text>
<path d="M331.8 968.6L430 968.2L470 969.5L511 971.4L578 971.6" fill="none" stroke="#333" stroke-width="1.0" stroke-linejoin="round"/>
<path d="M331.8 968.8L333.2 969.7L334.6 966.9L336 967.5L337.4 966.6L338.8 970.9L340.2 970.3L341.6 970.7L343 969.4L344.4 969.6L345.8 967.6L347.2 970.4L348.6 967.7L350 968.1L351.4 968.3L352.8 968L354.2 969.5L355.6 968.5L357 968.6L358.4 968.5L359.8 969.9L361.2 968.1L362.6 968.5L364 969L365.4 967.2L366.8 968.2L368.2 969.1L369.6 969.7L371 968.8L372.4 968L373.8 969.9L375.2 968.4L376.6 968.7L378 968.8L379.4 968.6L380.8 968.1L382.2 969L383.6 967.5L385 968.1L386.4 968.2L387.8 967.7L389.2 968.6L390.6 968.7L392 968.6L393.4 968.4L394.8 969L396.2 970L397.6 969.4L399 965.9L400.4 968.8L401.8 965.6L403.2 965.1L404.6 966.3L406 964.4L407.4 966.4L408.8 965.1L410.2 963L411.6 961.5L413 962.5L414.4 962.3L415.8 960.2L417.2 960.4L418.6 957.6L420 956L421.4 953.2L422.8 951.8L424.2 949.1L425.6 945.1L427 946.2L428.4 940.3L429.8 935.9L431.2 932L432.6 926L434 921.1L435.4 916.2L436.8 909.4L438.2 906L439.6 898.6L441 891.5L442.4 886.8L443.8 880.4L445.2 873.2L446.6 867.9L448 861.4L449.4 855.4L450.8 849.3L452.2 843.5L453.6 835.9L455 832L456.4 826.9L457.8 824.4L459.2 819.8L460.6 817.3L462 817.6L463.4 819.7L464.8 818.1L466.2 817L467.6 819L469 816.9L470.4 817.8L471.8 821.3L473.2 825.5L474.6 830L476 834.8L477.4 840.9L478.8 847.8L480.2 852.3L481.6 859.6L483 867.4L484.4 874.1L485.8 875.7L487.2 883.7L488.6 891.1L490 895.8L491.4 901.4L492.8 908.8L494.2 913.1L495.6 919.4L497 926.4L498.4 931L499.8 934L501.2 940.4L502.6 944L504 946.1L505.4 949.2L506.8 953L508.2 955.2L509.6 956.2L511 959L512.4 962.4L513.8 963.1L515.2 963.3L516.6 964.5L518 967.5L519.4 965.9L520.8 968.7L522.2 968.5L523.6 967.4L525 968.3L526.4 968.9L527.8 969.2L529.2 969.2L530.6 970.4L532 970.1L533.4 968.9L534.8 969.3L536.2 968.8L537.6 969.2L539 969.9L540.4 967.8L541.8 970.1L543.2 970.1L544.6 970L546 969.2L547.4 969.9L548.8 969.8L550.2 970.6L551.6 968.5L553 970.5L554.4 971.3L555.8 970.1L557.2 970.1L558.6 971.7L560 973.5L561.4 971.7L562.8 971.8L564.2 971.3L565.6 972L567 971.9L568.4 970.5L569.8 971.8L571.2 972.3L572.6 970.8L574 971.8L575.4 972.6L576.8 972.4" fill="none" stroke="#111" stroke-width="1.5" stroke-linejoin="round"/>
<path d="M397 968L397.5 968L398 967.9L398.5 967.9L399 967.9L399.5 967.8L400 967.8L400.5 967.7L401 967.7L401.5 967.6L402 967.5L402.5 967.5L403 967.4L403.5 967.3L404 967.2L404.5 967.2L405 967.1L405.5 967L406 966.8L406.5 966.7L407 966.6L407.5 966.5L408 966.3L408.5 966.2L409 966L409.5 965.8L410 965.6L410.5 965.4L411 965.2L411.5 965L412 964.7L412.5 964.5L413 964.2L413.5 963.9L414 963.6L414.5 963.3L415 962.9L415.5 962.6L416 962.2L416.5 961.8L417 961.3L417.5 960.9L418 960.4L418.5 959.9L419 959.4L419.5 958.8L420 958.2L420.5 957.6L421 957L421.5 956.3L422 955.6L422.5 954.8L423 954.1L423.5 953.2L424 952.4L424.5 951.5L425 950.6L425.5 949.6L426 948.6L426.5 947.6L427 946.5L427.5 945.4L428 944.2L428.5 943L429 941.8L429.5 940.5L430 939.1L430.5 937.8L431 936.4L431.5 934.9L432 933.4L432.5 931.9L433 930.3L433.5 928.7L434 927L434.5 925.3L435 923.5L435.5 921.7L436 919.8L436.5 917.9L437 916L437.5 914L438 912L438.5 909.9L439 907.9L439.5 905.7L440 903.6L440.5 901.4L441 899.2L441.5 896.9L442 894.7L442.5 892.4L443 890L443.5 887.7L444 885.4L444.5 883L445 880.6L445.5 878.2L446 875.8L446.5 873.5L447 871.1L447.5 868.7L448 866.3L448.5 863.9L449 861.6L449.5 859.3L450 857L450.5 854.7L451 852.4L451.5 850.2L452 848L452.5 845.8L453 843.7L453.5 841.7L454 839.7L454.5 837.7L455 835.8L455.5 833.9L456 832.2L456.5 830.5L457 828.8L457.5 827.2L458 825.7L458.5 824.3L459 823L459.5 821.7L460 820.6L460.5 819.5L461 818.5L461.5 817.6L462 816.8L462.5 816.1L463 815.5L463.5 815L464 814.5L464.5 814.2L465 814L465.5 813.9L466 813.9L466.5 814L467 814.1L467.5 814.4L468 814.8L468.5 815.3L469 815.9L469.5 816.6L470 817.4L470.5 818.2L471 819.2L471.5 820.3L472 821.4L472.5 822.7L473 824L473.5 825.4L474 826.9L474.5 828.5L475 830.1L475.5 831.8L476 833.6L476.5 835.5L477 837.4L477.5 839.3L478 841.4L478.5 843.4L479 845.5L479.5 847.7L480 849.9L480.5 852.2L481 854.4L481.5 856.7L482 859.1L482.5 861.4L483 863.8L483.5 866.2L484 868.6L484.5 871L485 873.5L485.5 875.9L486 878.3L486.5 880.8L487 883.2L487.5 885.6L488 888L488.5 890.4L489 892.7L489.5 895.1L490 897.4L490.5 899.7L491 902L491.5 904.2L492 906.4L492.5 908.6L493 910.8L493.5 912.9L494 915L494.5 917L495 919L495.5 921L496 922.9L496.5 924.8L497 926.6L497.5 928.4L498 930.1L498.5 931.8L499 933.5L499.5 935.1L500 936.7L500.5 938.2L501 939.7L501.5 941.1L502 942.5L502.5 943.8L503 945.1L503.5 946.4L504 947.6L504.5 948.7L505 949.9L505.5 950.9L506 952L506.5 953L507 954L507.5 954.9L508 955.8L508.5 956.6L509 957.4L509.5 958.2L510 959L510.5 959.7L511 960.4L511.5 961L512 961.6L512.5 962.2L513 962.7L513.5 963.3L514 963.8L514.5 964.2L515 964.7L515.5 965.1L516 965.5L516.5 965.9L517 966.2L517.5 966.6L518 966.9L518.5 967.2L519 967.5L519.5 967.7L520 968L520.5 968.2L521 968.4L521.5 968.6L522 968.8L522.5 969L523 969.2L523.5 969.4L524 969.5L524.5 969.7L525 969.8L525.5 969.9L526 970L526.5 970.1L527 970.2L527.5 970.3L528 970.4L528.5 970.5L529 970.6L529.5 970.7L530 970.7L530.5 970.8L531 970.8L531.5 970.9L532 970.9L532.5 971L533 971L533.5 971.1L534 971.1L534.5 971.1L535 971.2" fill="none" stroke="#e2202c" stroke-width="1.2" stroke-linejoin="round" stroke-dasharray="1.1 0.8"/>
<text x="444.8" y="806" font-size="10.2" fill="#111" font-weight="bold" text-anchor="start">CF<tspan font-size="6.4" dy="2.9">2</tspan><tspan dy="-2.9"> / CF</tspan><tspan font-size="6.4" dy="2.9">3</tspan></text>
<rect x="23.3" y="1053.4" width="255.2" height="189" fill="none" stroke="#2a2a2a" stroke-width="1.1"/>
<path d="M23.3 1242.4V1238.8M94.2 1242.4V1238.8M165.1 1242.4V1238.8M236 1242.4V1238.8M58.7 1242.4V1240.2M129.6 1242.4V1240.2M200.5 1242.4V1240.2M271.4 1242.4V1240.2" stroke="#2a2a2a" stroke-width="1" fill="none"/>
<text x="23.3" y="1258" font-size="13.8" fill="#111" font-weight="bold" text-anchor="middle">175</text>
<text x="94.2" y="1258" font-size="13.8" fill="#111" font-weight="bold" text-anchor="middle">170</text>
<text x="165.1" y="1258" font-size="13.8" fill="#111" font-weight="bold" text-anchor="middle">165</text>
<text x="236" y="1258" font-size="13.8" fill="#111" font-weight="bold" text-anchor="middle">160</text>
<text x="22.8" y="1048.5" font-size="14.25" fill="#111" font-weight="bold" text-anchor="start">LTO overcharge, S 2p</text>
<text transform="translate(12.8 1138.4) rotate(-90)" font-size="13.8" font-weight="bold" text-anchor="middle" fill="#111">a. u.</text>
<text x="114.9" y="1276.2" font-size="14.05" fill="#111" font-weight="bold" text-anchor="start">Binding Energy (eV)</text>
<path d="M59.8 1218.5L100 1223.3L150.9 1226.7L185 1228.4L217.3 1232.4L241.5 1234L278.7 1234.8" fill="none" stroke="#333" stroke-width="1.0" stroke-linejoin="round"/>
<path d="M60 1217.8L60.5 1217.7L61 1217.6L61.5 1217.5L62 1217.3L62.5 1217.2L63 1216.9L63.5 1216.7L64 1216.4L64.5 1216.1L65 1215.8L65.5 1215.3L66 1214.9L66.5 1214.4L67 1213.8L67.5 1213.2L68 1212.5L68.5 1211.7L69 1210.9L69.5 1210L70 1209.1L70.5 1208.1L71 1207L71.5 1205.9L72 1204.7L72.5 1203.4L73 1202.1L73.5 1200.7L74 1199.3L74.5 1197.9L75 1196.4L75.5 1194.9L76 1193.4L76.5 1191.9L77 1190.5L77.5 1189L78 1187.6L78.5 1186.2L79 1184.9L79.5 1183.7L80 1182.5L80.5 1181.5L81 1180.5L81.5 1179.7L82 1179L82.5 1178.4L83 1177.9L83.5 1177.6L84 1177.5L84.5 1177.4L85 1177.6L85.5 1177.9L86 1178.3L86.5 1178.9L87 1179.6L87.5 1180.4L88 1181.4L88.5 1182.4L89 1183.6L89.5 1184.9L90 1186.2L90.5 1187.7L91 1189.2L91.5 1190.7L92 1192.3L92.5 1193.9L93 1195.5L93.5 1197.1L94 1198.7L94.5 1200.3L95 1201.8L95.5 1203.3L96 1204.8L96.5 1206.3L97 1207.6L97.5 1209L98 1210.2L98.5 1211.4L99 1212.6L99.5 1213.6L100 1214.6L100.5 1215.5L101 1216.4L101.5 1217.2L102 1217.9L102.5 1218.5L103 1219.1L103.5 1219.7L104 1220.2L104.5 1220.7L105 1221.1L105.5 1221.4L106 1221.8L106.5 1222.1L107 1222.3L107.5 1222.6L108 1222.8L108.5 1223L109 1223.1L109.5 1223.3L110 1223.4L110.5 1223.5L111 1223.7L111.5 1223.7" fill="none" stroke="#2a2ab8" stroke-width="1.3" stroke-linejoin="round" stroke-dasharray="1.3 0.8"/>
<path d="M62.5 1218.5L63 1218.5L63.5 1218.5L64 1218.5L64.5 1218.5L65 1218.5L65.5 1218.4L66 1218.4L66.5 1218.4L67 1218.3L67.5 1218.2L68 1218.1L68.5 1218L69 1217.9L69.5 1217.8L70 1217.6L70.5 1217.4L71 1217.2L71.5 1217L72 1216.7L72.5 1216.4L73 1216.1L73.5 1215.8L74 1215.4L74.5 1214.9L75 1214.5L75.5 1214L76 1213.4L76.5 1212.8L77 1212.2L77.5 1211.5L78 1210.7L78.5 1209.9L79 1209.1L79.5 1208.2L80 1207.2L80.5 1206.2L81 1205.1L81.5 1203.9L82 1202.7L82.5 1201.5L83 1200.1L83.5 1198.7L84 1197.3L84.5 1195.8L85 1194.2L85.5 1192.6L86 1190.9L86.5 1189.2L87 1187.5L87.5 1185.7L88 1183.8L88.5 1181.9L89 1180L89.5 1178.1L90 1176.1L90.5 1174.2L91 1172.2L91.5 1170.2L92 1168.2L92.5 1166.3L93 1164.4L93.5 1162.5L94 1160.6L94.5 1158.8L95 1157L95.5 1155.3L96 1153.6L96.5 1152.1L97 1150.6L97.5 1149.2L98 1147.9L98.5 1146.7L99 1145.6L99.5 1144.6L100 1143.7L100.5 1142.9L101 1142.3L101.5 1141.8L102 1141.4L102.5 1141.1L103 1141L103.5 1141L104 1141.2L104.5 1141.5L105 1141.9L105.5 1142.5L106 1143.2L106.5 1144L107 1144.9L107.5 1146L108 1147.1L108.5 1148.4L109 1149.8L109.5 1151.3L110 1152.8L110.5 1154.5L111 1156.2L111.5 1158L112 1159.9L112.5 1161.8L113 1163.7L113.5 1165.7L114 1167.7L114.5 1169.8L115 1171.8L115.5 1173.9L116 1176L116.5 1178L117 1180.1L117.5 1182.1L118 1184.1L118.5 1186.1L119 1188L119.5 1189.9L120 1191.8L120.5 1193.6L121 1195.4L121.5 1197.1L122 1198.8L122.5 1200.4L123 1202L123.5 1203.5L124 1204.9L124.5 1206.3L125 1207.6L125.5 1208.8L126 1210L126.5 1211.1L127 1212.2L127.5 1213.2L128 1214.2L128.5 1215.1L129 1215.9L129.5 1216.7L130 1217.5L130.5 1218.2L131 1218.8L131.5 1219.4L132 1220L132.5 1220.5L133 1221L133.5 1221.5L134 1221.9L134.5 1222.3L135 1222.7L135.5 1223L136 1223.3L136.5 1223.6L137 1223.8L137.5 1224.1L138 1224.3L138.5 1224.5L139 1224.7L139.5 1224.9L140 1225L140.5 1225.2L141 1225.3L141.5 1225.4L142 1225.5L142.5 1225.6L143 1225.7L143.5 1225.8L144 1225.9L144.5 1226" fill="none" stroke="#2a2ab8" stroke-width="1.3" stroke-linejoin="round" stroke-dasharray="1.3 0.8"/>
<path d="M89.5 1221.7L90 1221.7L90.5 1221.7L91 1221.7L91.5 1221.6L92 1221.6L92.5 1221.5L93 1221.4L93.5 1221.3L94 1221.1L94.5 1221L95 1220.8L95.5 1220.5L96 1220.3L96.5 1220L97 1219.6L97.5 1219.2L98 1218.8L98.5 1218.3L99 1217.8L99.5 1217.2L100 1216.6L100.5 1215.9L101 1215.1L101.5 1214.3L102 1213.5L102.5 1212.6L103 1211.7L103.5 1210.7L104 1209.7L104.5 1208.7L105 1207.7L105.5 1206.7L106 1205.7L106.5 1204.6L107 1203.6L107.5 1202.7L108 1201.7L108.5 1200.8L109 1200L109.5 1199.2L110 1198.5L110.5 1197.9L111 1197.4L111.5 1196.9L112 1196.6L112.5 1196.4L113 1196.2L113.5 1196.2L114 1196.3L114.5 1196.5L115 1196.8L115.5 1197.2L116 1197.7L116.5 1198.3L117 1199L117.5 1199.8L118 1200.6L118.5 1201.5L119 1202.5L119.5 1203.5L120 1204.5L120.5 1205.6L121 1206.7L121.5 1207.8L122 1208.8L122.5 1209.9L123 1211L123.5 1212.1L124 1213.1L124.5 1214.1L125 1215L125.5 1215.9L126 1216.8L126.5 1217.6L127 1218.4L127.5 1219.1L128 1219.8L128.5 1220.4L129 1221L129.5 1221.5L130 1222L130.5 1222.4L131 1222.8L131.5 1223.2L132 1223.5L132.5 1223.8L133 1224.1L133.5 1224.3L134 1224.5L134.5 1224.7L135 1224.9L135.5 1225L136 1225.2L136.5 1225.3L137 1225.4L137.5 1225.5" fill="none" stroke="#2e8a2e" stroke-width="1.3" stroke-linejoin="round" stroke-dasharray="1.3 0.8"/>
<path d="M103 1223.2L103.5 1223.2L104 1223.1L104.5 1223.1L105 1223L105.5 1223L106 1222.9L106.5 1222.8L107 1222.7L107.5 1222.5L108 1222.4L108.5 1222.2L109 1222L109.5 1221.8L110 1221.5L110.5 1221.3L111 1220.9L111.5 1220.6L112 1220.2L112.5 1219.8L113 1219.3L113.5 1218.8L114 1218.2L114.5 1217.6L115 1217L115.5 1216.3L116 1215.5L116.5 1214.7L117 1213.9L117.5 1213L118 1212L118.5 1211L119 1210L119.5 1208.9L120 1207.8L120.5 1206.7L121 1205.5L121.5 1204.3L122 1203.1L122.5 1201.8L123 1200.6L123.5 1199.3L124 1198.1L124.5 1196.9L125 1195.7L125.5 1194.5L126 1193.4L126.5 1192.3L127 1191.3L127.5 1190.3L128 1189.4L128.5 1188.6L129 1187.9L129.5 1187.2L130 1186.7L130.5 1186.2L131 1185.9L131.5 1185.6L132 1185.5L132.5 1185.5L133 1185.6L133.5 1185.8L134 1186.1L134.5 1186.5L135 1187L135.5 1187.6L136 1188.3L136.5 1189.1L137 1190L137.5 1191L138 1192L138.5 1193.1L139 1194.3L139.5 1195.4L140 1196.7L140.5 1197.9L141 1199.2L141.5 1200.5L142 1201.8L142.5 1203.2L143 1204.5L143.5 1205.7L144 1207L144.5 1208.3L145 1209.5L145.5 1210.7L146 1211.8L146.5 1212.9L147 1214L147.5 1215L148 1215.9L148.5 1216.9L149 1217.7L149.5 1218.5L150 1219.3L150.5 1220L151 1220.7L151.5 1221.3L152 1221.9L152.5 1222.4L153 1222.9L153.5 1223.4L154 1223.8L154.5 1224.1L155 1224.5L155.5 1224.8L156 1225.1L156.5 1225.3L157 1225.6L157.5 1225.8L158 1226L158.5 1226.1L159 1226.3L159.5 1226.4L160 1226.5L160.5 1226.7L161 1226.8L161.5 1226.8L162 1226.9" fill="none" stroke="#2e8a2e" stroke-width="1.3" stroke-linejoin="round" stroke-dasharray="1.3 0.8"/>
<path d="M169.5 1227.3L170 1227.2L170.5 1227.1L171 1227.1L171.5 1226.9L172 1226.8L172.5 1226.7L173 1226.5L173.5 1226.2L174 1226L174.5 1225.7L175 1225.3L175.5 1224.9L176 1224.4L176.5 1223.9L177 1223.3L177.5 1222.6L178 1221.8L178.5 1220.9L179 1219.9L179.5 1218.8L180 1217.6L180.5 1216.3L181 1214.9L181.5 1213.4L182 1211.7L182.5 1209.9L183 1208L183.5 1205.9L184 1203.7L184.5 1201.5L185 1199.1L185.5 1196.6L186 1194.1L186.5 1191.5L187 1188.8L187.5 1186.1L188 1183.4L188.5 1180.6L189 1177.9L189.5 1175.2L190 1172.6L190.5 1170.1L191 1167.6L191.5 1165.3L192 1163.2L192.5 1161.2L193 1159.5L193.5 1157.9L194 1156.6L194.5 1155.6L195 1154.8L195.5 1154.3L196 1154L196.5 1154L197 1154.4L197.5 1155L198 1155.8L198.5 1157L199 1158.3L199.5 1160L200 1161.8L200.5 1163.8L201 1166.1L201.5 1168.4L202 1171L202.5 1173.6L203 1176.3L203.5 1179.1L204 1182L204.5 1184.8L205 1187.7L205.5 1190.5L206 1193.3L206.5 1196.1L207 1198.8L207.5 1201.4L208 1203.9L208.5 1206.2L209 1208.5L209.5 1210.7L210 1212.7L210.5 1214.6L211 1216.4L211.5 1218.1L212 1219.6L212.5 1221L213 1222.3L213.5 1223.5L214 1224.6L214.5 1225.6L215 1226.5L215.5 1227.3L216 1228L216.5 1228.7L217 1229.2L217.5 1229.7L218 1230.2L218.5 1230.5L219 1230.9L219.5 1231.2L220 1231.4L220.5 1231.6L221 1231.8L221.5 1232L222 1232.2L222.5 1232.3L223 1232.4L223.5 1232.5" fill="none" stroke="#e2202c" stroke-width="1.3" stroke-linejoin="round" stroke-dasharray="1.3 0.8"/>
<path d="M187 1228.3L187.5 1228.3L188 1228.3L188.5 1228.3L189 1228.2L189.5 1228.1L190 1228L190.5 1227.8L191 1227.6L191.5 1227.4L192 1227.1L192.5 1226.7L193 1226.3L193.5 1225.8L194 1225.2L194.5 1224.5L195 1223.7L195.5 1222.7L196 1221.7L196.5 1220.5L197 1219.1L197.5 1217.6L198 1215.9L198.5 1214L199 1212L199.5 1209.7L200 1207.2L200.5 1204.5L201 1201.5L201.5 1198.4L202 1195L202.5 1191.4L203 1187.6L203.5 1183.6L204 1179.4L204.5 1175L205 1170.5L205.5 1165.9L206 1161.2L206.5 1156.5L207 1151.7L207.5 1146.9L208 1142.2L208.5 1137.6L209 1133.1L209.5 1128.8L210 1124.7L210.5 1120.9L211 1117.5L211.5 1114.3L212 1111.5L212.5 1109.2L213 1107.3L213.5 1105.8L214 1104.8L214.5 1104.3L215 1104.3L215.5 1104.7L216 1105.4L216.5 1106.4L217 1107.7L217.5 1109.4L218 1111.3L218.5 1113.5L219 1115.9L219.5 1118.6L220 1121.6L220.5 1124.7L221 1128L221.5 1131.5L222 1135.1L222.5 1138.9L223 1142.7L223.5 1146.6L224 1150.6L224.5 1154.6L225 1158.6L225.5 1162.5L226 1166.5L226.5 1170.3L227 1174.2L227.5 1177.9L228 1181.5L228.5 1185L229 1188.4L229.5 1191.7L230 1194.9L230.5 1197.9L231 1200.7L231.5 1203.4L232 1206L232.5 1208.4L233 1210.7L233.5 1212.8L234 1214.8L234.5 1216.6L235 1218.3L235.5 1219.9L236 1221.3L236.5 1222.7L237 1223.9L237.5 1225L238 1226L238.5 1226.9L239 1227.8L239.5 1228.5L240 1229.2L240.5 1229.8L241 1230.4L241.5 1230.9L242 1231.3L242.5 1231.7L243 1232L243.5 1232.3L244 1232.5L244.5 1232.8L245 1233L245.5 1233.1L246 1233.3L246.5 1233.4L247 1233.5L247.5 1233.6L248 1233.7L248.5 1233.8" fill="none" stroke="#e2202c" stroke-width="1.3" stroke-linejoin="round" stroke-dasharray="1.3 0.8"/>
<path d="M59.9 1218.2L60.4 1217.2L60.9 1216.1L61.4 1215.1L61.9 1214.2L62.4 1213.2L62.9 1212.2L63.4 1211.3L63.9 1210.4L64.4 1209.5L64.9 1208.7L65.4 1207.8L65.9 1206.9L66.4 1206.1L66.9 1205.3L67.4 1204.5L67.9 1203.8L68.4 1203L68.9 1202.3L69.4 1201.4L69.9 1200.6L70.4 1199.7L70.9 1198.7L71.4 1197.6L71.9 1196.5L72.4 1195.3L72.9 1194.1L73.4 1192.8L73.9 1191.4L74.4 1190L74.9 1188.5L75.4 1186.9L75.9 1185.3L76.4 1183.6L76.9 1181.7L77.4 1179.7L77.9 1177.6L78.4 1175.3L78.9 1173L79.4 1170.7L79.9 1168.4L80.4 1166.1L80.9 1163.9L81.4 1161.7L81.9 1159.4L82.4 1157.1L82.9 1154.7L83.4 1152.4L83.9 1150L84.4 1147.8L84.9 1145.7L85.4 1143.7L85.9 1142L86.4 1140.4L86.9 1139L87.4 1137.6L87.9 1136.4L88.4 1135.2L88.9 1134.1L89.4 1133L89.9 1132L90.4 1130.9L90.9 1129.9L91.4 1128.8L91.9 1127.7L92.4 1126.6L92.9 1125.5L93.4 1124.3L93.9 1123.2L94.4 1122.2L94.9 1121.1L95.4 1120.1L95.9 1119.1L96.4 1118.2L96.9 1117.3L97.4 1116.5L97.9 1115.8L98.4 1115.1L98.9 1114.4L99.4 1113.8L99.9 1113.1L100.4 1112.4L100.9 1111.8L101.4 1111.2L101.9 1110.6L102.4 1110.1L102.9 1109.6L103.4 1109.2L103.9 1108.8L104.4 1108.5L104.9 1108.3L105.4 1108.2L105.9 1108.2L106.4 1108.3L106.9 1108.4L107.4 1108.6L107.9 1108.9L108.4 1109.2L108.9 1109.6L109.4 1110.1L109.9 1110.5L110.4 1111L110.9 1111.6L111.4 1112.1L111.9 1112.8L112.4 1113.7L112.9 1114.9L113.4 1116.3L113.9 1117.9L114.4 1119.7L114.9 1121.5L115.4 1123.4L115.9 1125.3L116.4 1127L116.9 1128.7L117.4 1130.2L117.9 1131.8L118.4 1133.3L118.9 1134.8L119.4 1136.4L119.9 1137.9L120.4 1139.4L120.9 1141L121.4 1142.5L121.9 1144L122.4 1145.5L122.9 1147L123.4 1148.5L123.9 1149.9L124.4 1151.4L124.9 1152.8L125.4 1154.2L125.9 1155.6L126.4 1157L126.9 1158.4L127.4 1159.7L127.9 1161.1L128.4 1162.4L128.9 1163.7L129.4 1165L129.9 1166.4L130.4 1167.6L130.9 1168.9L131.4 1170.2L131.9 1171.5L132.4 1172.7L132.9 1173.9L133.4 1175.2L133.9 1176.4L134.4 1177.6L134.9 1178.7L135.4 1179.9L135.9 1181.1L136.4 1182.3L136.9 1183.4L137.4 1184.6L137.9 1185.7L138.4 1186.8L138.9 1187.9L139.4 1189L139.9 1190.1L140.4 1191.2L140.9 1192.2L141.4 1193.3L141.9 1194.3L142.4 1195.3L142.9 1196.3L143.4 1197.3L143.9 1198.3L144.4 1199.2L144.9 1200.2L145.4 1201.2L145.9 1202.1L146.4 1203L146.9 1203.9L147.4 1204.8L147.9 1205.7L148.4 1206.6L148.9 1207.4L149.4 1208.2L149.9 1209L150.4 1209.8L150.9 1210.5L151.4 1211.2L151.9 1211.9L152.4 1212.6L152.9 1213.3L153.4 1214L153.9 1214.7L154.4 1215.3L154.9 1216L155.4 1216.6L155.9 1217.2L156.4 1217.8L156.9 1218.3L157.4 1218.9L157.9 1219.4L158.4 1219.8L158.9 1220.3L159.4 1220.7L159.9 1221.1L160.4 1221.5L160.9 1221.9L161.4 1222.3L161.9 1222.6L162.4 1223L162.9 1223.3L163.4 1223.7L163.9 1224L164.4 1224.3L164.9 1224.6L165.4 1224.8L165.9 1225.1L166.4 1225.3L166.9 1225.5L167.4 1225.7L167.9 1225.8L168.4 1225.9L168.9 1226.1L169.4 1226.2L169.9 1226.3L170.4 1226.4L170.9 1226.5L171.4 1226.6L171.9 1226.6L172.4 1226.7L172.9 1226.7L173.4 1226.7L173.9 1226.6L174.4 1226.6L174.9 1226.4L175.4 1226.3L175.9 1226.1L176.4 1225.9L176.9 1225.7L177.4 1225.5L177.9 1225.2L178.4 1225L178.9 1224.7L179.4 1224.4L179.9 1224L180.4 1223.6L180.9 1223.1L181.4 1222.4L181.9 1221.7L182.4 1220.8L182.9 1219.9L183.4 1218.9L183.9 1217.8L184.4 1216.7L184.9 1215.6L185.4 1214.3L185.9 1212.8L186.4 1211.2L186.9 1209.3L187.4 1207.4L187.9 1205.4L188.4 1203.3L188.9 1201.1L189.4 1198.7L189.9 1195.9L190.4 1192.6L190.9 1188.5L191.4 1183.9L191.9 1179.1L192.4 1174.4L192.9 1170L193.4 1166.4L193.9 1163.2L194.4 1160.2L194.9 1157.3L195.4 1154.6L195.9 1152.3L196.4 1150.3L196.9 1148.7L197.4 1147.4L197.9 1146.2L198.4 1145.2L198.9 1144.3L199.4 1143.6L199.9 1143.1L200.4 1142.7L200.9 1142.4L201.4 1142.1L201.9 1141.7L202.4 1141.3L202.9 1140.8L203.4 1140L203.9 1139L204.4 1137.9L204.9 1136.6L205.4 1135.2L205.9 1133.7L206.4 1132.2L206.9 1130.6L207.4 1129L207.9 1127.4L208.4 1125.5L208.9 1123.5L209.4 1121.3L209.9 1119.1L210.4 1116.9L210.9 1114.8L211.4 1113L211.9 1111.3L212.4 1109.5L212.9 1107.6L213.4 1106L213.9 1104.6L214.4 1103.7L214.9 1103.5L215.4 1104L215.9 1105L216.4 1106.5L216.9 1108.2L217.4 1110L217.9 1111.7L218.4 1113.3L218.9 1114.9L219.4 1116.7L219.9 1118.5L220.4 1120.5L220.9 1122.6L221.4 1124.9L221.9 1127.4L222.4 1130.1L222.9 1133.3L223.4 1136.8L223.9 1140.7L224.4 1144.9L224.9 1149.1L225.4 1153.5L225.9 1158.4L226.4 1163.7L226.9 1169.1L227.4 1174.1L227.9 1178.5L228.4 1182.7L228.9 1186.7L229.4 1190.6L229.9 1194.4L230.4 1197.8L230.9 1201L231.4 1203.8L231.9 1206.3L232.4 1208.5L232.9 1210.5L233.4 1212.5L233.9 1214.3L234.4 1216L234.9 1217.6L235.4 1219L235.9 1220.3L236.4 1221.5L236.9 1222.5L237.4 1223.6L237.9 1224.6L238.4 1225.5L238.9 1226.5L239.4 1227.4L239.9 1228.2L240.4 1228.9L240.9 1229.6L241.4 1230.2L241.9 1230.8L242.4 1231.2L242.9 1231.5L243.4 1231.7L243.9 1231.9L244.4 1232.1L244.9 1232.3L245.4 1232.5L245.9 1232.7L246.4 1232.8L246.9 1233L247.4 1233.1L247.9 1233.3L248.4 1233.4L248.9 1233.5L249.4 1233.6L249.9 1233.7L250.4 1233.8L250.9 1233.8L251.4 1233.9L251.9 1233.9L252.4 1234L252.9 1234L253.4 1234L253.9 1234.1L254.4 1234.1L254.9 1234.1L255.4 1234.2L255.9 1234.2L256.4 1234.2L256.9 1234.2L257.4 1234.3L257.9 1234.3L258.4 1234.3L258.9 1234.3L259.4 1234.4L259.9 1234.4L260.4 1234.4L260.9 1234.4L261.4 1234.4L261.9 1234.5L262.4 1234.5L262.9 1234.5L263.4 1234.5L263.9 1234.5L264.4 1234.6L264.9 1234.6L265.4 1234.6L265.9 1234.6L266.4 1234.6L266.9 1234.6L267.4 1234.7L267.9 1234.7L268.4 1234.7L268.9 1234.7L269.4 1234.7L269.9 1234.7L270.4 1234.7L270.9 1234.7L271.4 1234.7L271.9 1234.7L272.4 1234.8L272.9 1234.8L273.4 1234.8L273.9 1234.8L274.4 1234.8L274.9 1234.8L275.4 1234.8L275.9 1234.8L276.4 1234.8L276.9 1234.8L277.4 1234.8L277.9 1234.8L278.4 1234.8L278.7 1234.8" fill="none" stroke="#111" stroke-width="1.5" stroke-linejoin="round"/>
<path d="M23.4 1217L24.8 1215.8L26.1 1212.1L27.5 1217.1L28.8 1215.5L30.2 1215.1L31.5 1210.5L32.9 1215.1L34.2 1216.2L35.6 1208.4L36.9 1220.2L38.3 1225.2L39.6 1218.7L41 1220.6L42.3 1225.6L43.7 1219.4L45 1224.4L46.4 1227.5L47.7 1216.9L49.1 1223.3L50.4 1220.5L51.8 1217.6L53.1 1221.6L54.5 1219.2L55.8 1219.8L57.2 1215.9L58.5 1218.4L59.9 1219L61.2 1214L62.6 1203.8L63.9 1209.3L65.3 1217.6L66.6 1191.4L68 1197L69.3 1198L70.7 1180.5L72 1198.9L73.4 1195L74.7 1192.5L76.1 1188.6L77.4 1173.5L78.8 1170.5L80.1 1162L81.5 1160.6L82.8 1150L84.2 1140.5L85.5 1149.4L86.9 1134.3L88.2 1128.3L89.6 1133L90.9 1119.5L92.3 1120.2L93.6 1116L95 1106.2L96.3 1100.1L97.7 1111.3L99 1106.3L100.4 1104.5L101.7 1110.6L103.1 1100.4L104.4 1092.3L105.8 1094.9L107.1 1090.4L108.5 1104.1L109.8 1108.8L111.2 1117.2L112.5 1107.9L113.9 1112.5L115.2 1118.7L116.6 1137.3L117.9 1119.3L119.3 1134.6L120.6 1136.7L122 1135.9L123.3 1142.8L124.7 1149.2L126 1148.1L127.4 1156.3L128.7 1163.6L130.1 1167.9L131.4 1165.5L132.8 1169.8L134.1 1174.4L135.5 1181.1L136.8 1180.2L138.2 1187.7L139.5 1186.4L140.9 1178.3L142.2 1192.7L143.6 1186.1L144.9 1193.2L146.3 1191.7L147.6 1197.3L149 1194.3L150.3 1196L151.7 1189L153 1205.1L154.4 1200.7L155.7 1200.6L157.1 1210.3L158.4 1208.6L159.8 1208.4L161.1 1210.8L162.5 1210.1L163.8 1206.1L165.2 1206.1L166.5 1216.8L167.9 1217.8L169.2 1215.6L170.6 1214.7L171.9 1217.8L173.3 1218.7L174.6 1215.4L176 1218L177.3 1217.3L178.7 1209.8L180 1214.3L181.4 1204L182.7 1195.8L184.1 1206L185.4 1196.7L186.8 1202L188.1 1180L189.5 1183.8L190.8 1170.8L192.2 1166L193.5 1151.9L194.9 1161.4L196.2 1139.7L197.6 1147.6L198.9 1124.6L200.3 1130.1L201.6 1132.1L203 1142.7L204.3 1130.8L205.7 1130.6L207 1133.2L208.4 1127.1L209.7 1110.1L211.1 1108.3L212.4 1095.4L213.8 1098.4L215.1 1105.3L216.5 1103.6L217.8 1099.7L219.2 1112.3L220.5 1112.9L221.9 1123.3L223.2 1126.9L224.6 1144.9L225.9 1153.8L227.3 1173.2L228.6 1171L230 1179.1L231.3 1185.2L232.7 1186.1L234 1187.1L235.4 1190.4L236.7 1186.4L238.1 1194.4L239.4 1197.4L240.8 1197.6L242.1 1202.3L243.5 1200.8L244.8 1211.4L246.2 1210.7L247.5 1210.8L248.9 1210.1L250.2 1223.7L251.6 1215.9L252.9 1215.3L254.3 1220.7L255.6 1238.3L257 1238.6L258.3 1228.1L259.7 1224.5L261 1229.4L262.4 1230.4L263.7 1231.4L265.1 1235L266.4 1229.4L267.8 1233L269.1 1235L270.5 1234.9L271.8 1234.8L273.2 1231L274.5 1242.4L275.9 1236.2L277.2 1227.9L278.6 1237" fill="none" stroke="#111" stroke-width="1.25" stroke-linejoin="round"/>
<text x="99" y="1071.3" font-size="10.6" fill="#111" font-weight="bold" text-anchor="start">SO<tspan font-size="6.6" dy="3">2</tspan></text>
<text x="97.7" y="1086.9" font-size="10.6" fill="#111" font-weight="bold" text-anchor="start">2p<tspan font-size="6.6" dy="3">3/2</tspan></text>
<text x="53.5" y="1150.7" font-size="10.6" fill="#111" font-weight="bold" text-anchor="start">SO<tspan font-size="6.6" dy="3">2</tspan></text>
<text x="52.6" y="1166.7" font-size="10.6" fill="#111" font-weight="bold" text-anchor="start">2p<tspan font-size="6.6" dy="3">1/2</tspan></text>
<text x="160.2" y="1125.3" font-size="10.7" fill="#111" font-weight="bold" text-anchor="start">S<tspan font-size="6.5" dy="-4.5">2-</tspan><tspan dy="4.5">, 2p</tspan><tspan font-size="6.6" dy="2.9">1/2</tspan></text>
<text x="202.9" y="1091.3" font-size="10.7" fill="#111" font-weight="bold" text-anchor="start">S<tspan font-size="6.5" dy="-4.5">2-</tspan><tspan dy="4.5">, 2p</tspan><tspan font-size="6.6" dy="2.9">3/2</tspan></text>
<text x="113.3" y="1193.8" font-size="9" fill="#111" font-weight="bold" text-anchor="middle">*</text>
<text x="132.4" y="1193.8" font-size="9" fill="#111" font-weight="bold" text-anchor="middle">*</text>
<rect x="331.4" y="1054.4" width="254" height="188.6" fill="none" stroke="#2a2a2a" stroke-width="1.1"/>
<path d="M331.4 1243V1239.4M402 1243V1239.4M472.5 1243V1239.4M543.1 1243V1239.4M366.7 1243V1240.8M437.2 1243V1240.8M507.8 1243V1240.8M578.3 1243V1240.8" stroke="#2a2a2a" stroke-width="1" fill="none"/>
<text x="331.4" y="1258" font-size="13.8" fill="#111" font-weight="bold" text-anchor="middle">175</text>
<text x="402" y="1258" font-size="13.8" fill="#111" font-weight="bold" text-anchor="middle">170</text>
<text x="472.5" y="1258" font-size="13.8" fill="#111" font-weight="bold" text-anchor="middle">165</text>
<text x="543.1" y="1258" font-size="13.8" fill="#111" font-weight="bold" text-anchor="middle">160</text>
<text x="330.9" y="1045.8" font-size="14.15" fill="#111" font-weight="bold" text-anchor="start">NMC overcharge, S 2p</text>
<text transform="translate(325.2 1148.2) rotate(-90)" font-size="13.8" font-weight="bold" text-anchor="middle" fill="#111">a. u.</text>
<text x="396.8" y="1276.8" font-size="14.0" fill="#111" font-weight="bold" text-anchor="start">Binding Energy (eV)</text>
<path d="M331.4 1226.2L370 1226.2L410.7 1227.6L450 1228.9L470 1230L585.4 1230.2" fill="none" stroke="#333" stroke-width="1.0" stroke-linejoin="round"/>
<path d="M373 1226L373.5 1225.9L374 1225.9L374.5 1225.8L375 1225.7L375.5 1225.6L376 1225.4L376.5 1225.3L377 1225.1L377.5 1224.9L378 1224.6L378.5 1224.3L379 1224L379.5 1223.6L380 1223.2L380.5 1222.7L381 1222.1L381.5 1221.5L382 1220.8L382.5 1220L383 1219.1L383.5 1218.2L384 1217.1L384.5 1216L385 1214.8L385.5 1213.4L386 1212L386.5 1210.4L387 1208.7L387.5 1207L388 1205.1L388.5 1203.1L389 1201.1L389.5 1198.9L390 1196.7L390.5 1194.4L391 1192L391.5 1189.6L392 1187.2L392.5 1184.7L393 1182.2L393.5 1179.8L394 1177.4L394.5 1175L395 1172.7L395.5 1170.5L396 1168.4L396.5 1166.4L397 1164.6L397.5 1162.9L398 1161.4L398.5 1160.1L399 1159L399.5 1158.1L400 1157.4L400.5 1157L401 1156.8L401.5 1156.8L402 1157.1L402.5 1157.5L403 1158.1L403.5 1158.9L404 1159.9L404.5 1161L405 1162.3L405.5 1163.8L406 1165.4L406.5 1167.1L407 1169L407.5 1170.9L408 1172.9L408.5 1175L409 1177.2L409.5 1179.4L410 1181.7L410.5 1183.9L411 1186.2L411.5 1188.5L412 1190.7L412.5 1192.9L413 1195.1L413.5 1197.2L414 1199.3L414.5 1201.3L415 1203.2L415.5 1205.1L416 1206.8L416.5 1208.5L417 1210.1L417.5 1211.6L418 1213.1L418.5 1214.4L419 1215.7L419.5 1216.9L420 1218L420.5 1219L421 1219.9L421.5 1220.8L422 1221.6L422.5 1222.3L423 1222.9L423.5 1223.5L424 1224.1L424.5 1224.6L425 1225L425.5 1225.4L426 1225.8L426.5 1226.1L427 1226.4L427.5 1226.6L428 1226.9L428.5 1227.1L429 1227.2L429.5 1227.4L430 1227.5L430.5 1227.6L431 1227.8L431.5 1227.9L432 1227.9L432.5 1228" fill="none" stroke="#e2202c" stroke-width="1.3" stroke-linejoin="round" stroke-dasharray="1.3 0.8"/>
<path d="M388 1226.5L388.5 1226.4L389 1226.4L389.5 1226.3L390 1226.2L390.5 1226.1L391 1226L391.5 1225.8L392 1225.6L392.5 1225.4L393 1225.1L393.5 1224.9L394 1224.5L394.5 1224.1L395 1223.7L395.5 1223.2L396 1222.6L396.5 1221.9L397 1221.2L397.5 1220.4L398 1219.4L398.5 1218.4L399 1217.2L399.5 1216L400 1214.6L400.5 1213L401 1211.3L401.5 1209.5L402 1207.5L402.5 1205.3L403 1203L403.5 1200.5L404 1197.8L404.5 1195L405 1192L405.5 1188.7L406 1185.4L406.5 1181.8L407 1178.1L407.5 1174.3L408 1170.3L408.5 1166.2L409 1162L409.5 1157.7L410 1153.3L410.5 1148.8L411 1144.4L411.5 1139.9L412 1135.5L412.5 1131.1L413 1126.9L413.5 1122.7L414 1118.6L414.5 1114.8L415 1111.1L415.5 1107.7L416 1104.5L416.5 1101.6L417 1099L417.5 1096.7L418 1094.8L418.5 1093.2L419 1092L419.5 1091.2L420 1090.8L420.5 1090.8L421 1091.1L421.5 1091.9L422 1093L422.5 1094.6L423 1096.5L423.5 1098.7L424 1101.3L424.5 1104.2L425 1107.3L425.5 1110.7L426 1114.4L426.5 1118.3L427 1122.3L427.5 1126.5L428 1130.8L428.5 1135.2L429 1139.6L429.5 1144.1L430 1148.6L430.5 1153.1L431 1157.5L431.5 1161.9L432 1166.1L432.5 1170.3L433 1174.3L433.5 1178.2L434 1182L434.5 1185.6L435 1189.1L435.5 1192.3L436 1195.4L436.5 1198.4L437 1201.1L437.5 1203.7L438 1206.1L438.5 1208.3L439 1210.4L439.5 1212.3L440 1214L440.5 1215.6L441 1217.1L441.5 1218.4L442 1219.6L442.5 1220.7L443 1221.7L443.5 1222.6L444 1223.4L444.5 1224.1L445 1224.7L445.5 1225.3L446 1225.8L446.5 1226.2L447 1226.6L447.5 1226.9L448 1227.2L448.5 1227.5L449 1227.7L449.5 1227.9L450 1228.1L450.5 1228.2L451 1228.4L451.5 1228.5L452 1228.6L452.5 1228.7" fill="none" stroke="#e2202c" stroke-width="1.3" stroke-linejoin="round" stroke-dasharray="1.3 0.8"/>
<path d="M444.5 1228.4L445 1228.3L445.5 1228.3L446 1228.2L446.5 1228.1L447 1228L447.5 1227.9L448 1227.7L448.5 1227.6L449 1227.4L449.5 1227.2L450 1227L450.5 1226.7L451 1226.5L451.5 1226.2L452 1225.9L452.5 1225.6L453 1225.2L453.5 1224.9L454 1224.5L454.5 1224.1L455 1223.7L455.5 1223.3L456 1222.9L456.5 1222.6L457 1222.2L457.5 1221.8L458 1221.4L458.5 1221.1L459 1220.8L459.5 1220.5L460 1220.3L460.5 1220.1L461 1220L461.5 1219.9L462 1219.8L462.5 1219.8L463 1219.8L463.5 1219.9L464 1220.1L464.5 1220.3L465 1220.5L465.5 1220.8L466 1221.1L466.5 1221.4L467 1221.8L467.5 1222.2L468 1222.6L468.5 1223L469 1223.5L469.5 1223.9L470 1224.4L470.5 1224.8L471 1225.2L471.5 1225.6L472 1226L472.5 1226.4L473 1226.8L473.5 1227.1L474 1227.4L474.5 1227.7L475 1228L475.5 1228.2L476 1228.4L476.5 1228.6L477 1228.8L477.5 1229L478 1229.1L478.5 1229.3L479 1229.4L479.5 1229.5L480 1229.6L480.5 1229.6L481 1229.7" fill="none" stroke="#2a2ab8" stroke-width="1.3" stroke-linejoin="round" stroke-dasharray="1.3 0.8"/>
<path d="M457.5 1229L458 1228.9L458.5 1228.9L459 1228.8L459.5 1228.8L460 1228.7L460.5 1228.6L461 1228.5L461.5 1228.3L462 1228.2L462.5 1228L463 1227.8L463.5 1227.6L464 1227.4L464.5 1227.1L465 1226.9L465.5 1226.6L466 1226.2L466.5 1225.9L467 1225.5L467.5 1225.1L468 1224.7L468.5 1224.3L469 1223.8L469.5 1223.4L470 1222.9L470.5 1222.4L471 1221.8L471.5 1221.3L472 1220.8L472.5 1220.3L473 1219.8L473.5 1219.3L474 1218.8L474.5 1218.4L475 1218L475.5 1217.6L476 1217.3L476.5 1217L477 1216.7L477.5 1216.5L478 1216.4L478.5 1216.3L479 1216.2L479.5 1216.2L480 1216.3L480.5 1216.4L481 1216.6L481.5 1216.8L482 1217L482.5 1217.3L483 1217.7L483.5 1218.1L484 1218.5L484.5 1218.9L485 1219.4L485.5 1219.9L486 1220.4L486.5 1220.9L487 1221.5L487.5 1222L488 1222.5L488.5 1223L489 1223.5L489.5 1224L490 1224.5L490.5 1224.9L491 1225.4L491.5 1225.8L492 1226.2L492.5 1226.6L493 1226.9L493.5 1227.2L494 1227.5L494.5 1227.8L495 1228.1L495.5 1228.3L496 1228.5L496.5 1228.7L497 1228.9L497.5 1229L498 1229.2L498.5 1229.3L499 1229.4L499.5 1229.5L500 1229.6L500.5 1229.7L501 1229.7" fill="none" stroke="#2a2ab8" stroke-width="1.3" stroke-linejoin="round" stroke-dasharray="1.3 0.8"/>
<path d="M331.4 1227.9L332.7 1227.1L334 1224.2L335.3 1226.2L336.6 1227L337.9 1225.3L339.2 1226.5L340.5 1226.3L341.8 1226.2L343.1 1226L344.4 1220.2L345.7 1223.2L347 1225L348.3 1227.5L349.6 1226.5L350.9 1226.8L352.2 1224.8L353.5 1226.4L354.8 1228.1L356.1 1224.8L357.4 1223.7L358.7 1224L360 1226.5L361.3 1229.2L362.6 1227.6L363.9 1228.3L365.2 1226.3L366.5 1228L367.8 1225.9L369.1 1226.9L370.4 1225.6L371.7 1224.9L373 1225.3L374.3 1224.1L375.6 1225.8L376.9 1223.5L378.2 1222.8L379.5 1220.5L380.8 1221.3L382.1 1216.7L383.4 1216.7L384.7 1212.8L386 1209.2L387.3 1206.5L388.6 1201.8L389.9 1197.9L391.2 1192.3L392.5 1186.9L393.8 1180.3L395.1 1171.8L396.4 1164.3L397.7 1156.9L399 1147.4L400.3 1141.7L401.6 1134.1L402.9 1125.9L404.2 1124.1L405.5 1115.3L406.8 1107.9L408.1 1102.9L409.4 1099.5L410.7 1095.8L412 1096.3L413.3 1089.4L414.6 1087.3L415.9 1083.1L417.2 1083.9L418.5 1076.6L419.8 1079.2L421.1 1081.4L422.4 1085.9L423.7 1091.9L425 1097.1L426.3 1107.8L427.6 1116.4L428.9 1133.6L430.2 1139L431.5 1156.4L432.8 1166.1L434.1 1179L435.4 1194.2L436.7 1202.4L438 1203.3L439.3 1210.6L440.6 1214.8L441.9 1214.8L443.2 1219.9L444.5 1222.3L445.8 1223.5L447.1 1222L448.4 1227.1L449.7 1226L451 1225L452.3 1223.5L453.6 1224.6L454.9 1224.1L456.2 1221.5L457.5 1221.6L458.8 1222L460.1 1217.6L461.4 1220L462.7 1216.7L464 1217.7L465.3 1219.3L466.6 1218.1L467.9 1217.4L469.2 1217.3L470.5 1213.9L471.8 1218L473.1 1215.6L474.4 1216.8L475.7 1215.4L477 1208.8L478.3 1214.6L479.6 1215.2L480.9 1215.3L482.2 1215.5L483.5 1216.8L484.8 1217.5L486.1 1215.5L487.4 1217.8L488.7 1217.8L490 1222.3L491.3 1225L492.6 1224.7L493.9 1224.4L495.2 1226.4L496.5 1226.2L497.8 1228.8L499.1 1228.3L500.4 1227.8L501.7 1227.3L503 1225.1L504.3 1229.7L505.6 1228L506.9 1229.2L508.2 1230.9L509.5 1229.5L510.8 1231.7L512.1 1231.1L513.4 1229.1L514.7 1227.9L516 1229.4L517.3 1228.9L518.6 1229.9L519.9 1231.3L521.2 1228.2L522.5 1229.1L523.8 1229.9L525.1 1230.8L526.4 1230.1L527.7 1230L529 1231L530.3 1226.5L531.6 1229.3L532.9 1229.6L534.2 1228.7L535.5 1230.2L536.8 1230.6L538.1 1226.6L539.4 1230.9L540.7 1229.5L542 1230.1L543.3 1230.3L544.6 1227L545.9 1228.2L547.2 1229.2L548.5 1228.7L549.8 1229.9L551.1 1229L552.4 1227.7L553.7 1230.3L555 1230.8L556.3 1230.2L557.6 1228.8L558.9 1229.3L560.2 1230.2L561.5 1230.3L562.8 1230.7L564.1 1229.3L565.4 1228L566.7 1228.8L568 1230.2L569.3 1230.4L570.6 1232.1L571.9 1225.6L573.2 1229.9L574.5 1229.4L575.8 1229.2L577.1 1230.5L578.4 1230L579.7 1229.4L581 1228.4L582.3 1229.5L583.6 1229.2L584.9 1231" fill="none" stroke="#111" stroke-width="1.1" stroke-linejoin="round"/>
<path d="M377.5 1222.8L378 1222.4L378.5 1222L379 1221.5L379.5 1221L380 1220.5L380.5 1219.9L381 1219.3L381.5 1218.6L382 1217.9L382.5 1217.2L383 1216.4L383.5 1215.6L384 1214.7L384.5 1213.7L385 1212.7L385.5 1211.7L386 1210.6L386.5 1209.4L387 1208.1L387.5 1206.7L388 1205.1L388.5 1203.4L389 1201.7L389.5 1199.8L390 1197.9L390.5 1195.9L391 1193.7L391.5 1191.4L392 1188.9L392.5 1186.4L393 1183.7L393.5 1181L394 1178.2L394.5 1175.4L395 1172.6L395.5 1169.7L396 1166.7L396.5 1163.7L397 1160.6L397.5 1157.6L398 1154.5L398.5 1151.5L399 1148.5L399.5 1145.3L400 1142.2L400.5 1139.1L401 1136L401.5 1133L402 1130.2L402.5 1127.5L403 1125L403.5 1122.6L404 1120.2L404.5 1117.8L405 1115.6L405.5 1113.4L406 1111.3L406.5 1109.3L407 1107.4L407.5 1105.6L408 1104L408.5 1102.5L409 1101.1L409.5 1099.8L410 1098.5L410.5 1097.3L411 1096.2L411.5 1095L412 1093.9L412.5 1092.8L413 1091.6L413.5 1090.4L414 1089.1L414.5 1087.8L415 1086.5L415.5 1085.2L416 1084L416.5 1083L417 1082L417.5 1081.1L418 1080.2L418.5 1079.7L419 1079.5L419.5 1079.7L420 1080.1L420.5 1080.8L421 1081.5L421.5 1082.4L422 1083.8L422.5 1085.6L423 1087.7L423.5 1090L424 1092.3L424.5 1094.8L425 1097.5L425.5 1100.5L426 1103.7L426.5 1107.1L427 1110.7L427.5 1114.8L428 1119.4L428.5 1124.5L429 1129.7L429.5 1134.9L430 1139.9L430.5 1145L431 1150.1L431.5 1155.2L432 1160.2L432.5 1165.1L433 1169.9L433.5 1174.8L434 1179.5L434.5 1183.9L435 1188L435.5 1191.7L436 1195.1L436.5 1198.4L437 1201.4L437.5 1204L438 1206.2L438.5 1208.2L439 1210L439.5 1211.6L440 1213.2L440.5 1214.6L441 1215.9L441.5 1217L442 1218L442.5 1218.9L443 1219.7L443.5 1220.4L444 1221.1L444.5 1221.7L445 1222.3L445.5 1222.9L446 1223.4L446.5 1223.9L447 1224.5L447.5 1225L448 1225.4L448.5 1225.7L449 1225.8L449.5 1225.7L450 1225.6L450.5 1225.4L451 1225.1L451.5 1224.8L452 1224.6L452.5 1224.3L453 1224L453.5 1223.7L454 1223.4L454.5 1223.1L455 1222.8L455.5 1222.5L456 1222.3L456.5 1222L457 1221.8L457.5 1221.5L458 1221.3L458.5 1221L459 1220.8L459.5 1220.6L460 1220.4L460.5 1220.2L461 1220L461.5 1219.8L462 1219.6L462.5 1219.4L463 1219.3L463.5 1219.1L464 1219L464.5 1218.8L465 1218.7L465.5 1218.6L466 1218.4L466.5 1218.3L467 1218.2L467.5 1218.1L468 1218L468.5 1217.8L469 1217.7L469.5 1217.6L470 1217.5L470.5 1217.4L471 1217.3L471.5 1217.1L472 1217L472.5 1216.8L473 1216.7L473.5 1216.6L474 1216.4L474.5 1216.3L475 1216.2L475.5 1216.1L476 1216L476.5 1215.9L477 1215.8L477.5 1215.7L478 1215.7L478.5 1215.6L479 1215.6L479.5 1215.6L480 1215.6L480.5 1215.7L481 1215.8L481.5 1215.9L482 1216.1L482.5 1216.2L483 1216.4L483.5 1216.6L484 1216.8L484.5 1217L485 1217.2L485.5 1217.4L486 1217.7L486.5 1218L487 1218.3L487.5 1218.7L488 1219.1L488.5 1219.4L489 1219.8L489.5 1220.2L490 1220.6L490.5 1221L491 1221.4L491.5 1221.8L492 1222.3L492.5 1222.7L493 1223.2L493.5 1223.6L494 1224.1L494.5 1224.5L495 1224.9L495.5 1225.3L496 1225.7L496.5 1226L497 1226.3L497.5 1226.6L498 1226.8L498.5 1227.1L499 1227.3L499.5 1227.6L500 1227.8L500.5 1228L501 1228.2L501.5 1228.4L502 1228.6L502.5 1228.8L503 1228.9L503.5 1229.1L504 1229.2L504.5 1229.3L505 1229.4" fill="none" stroke="#111" stroke-width="1.2" stroke-linejoin="round"/>
<text x="429.6" y="1076.6" font-size="10.5" fill="#111" font-weight="bold" text-anchor="start">SO<tspan font-size="6.5" dy="2.9">2</tspan></text>
<text x="428.3" y="1092.6" font-size="10.5" fill="#111" font-weight="bold" text-anchor="start">2p<tspan font-size="6.5" dy="2.9">3/2</tspan></text>
<text x="370.4" y="1148.4" font-size="10.5" fill="#111" font-weight="bold" text-anchor="start">SO<tspan font-size="6.5" dy="2.9">2</tspan></text>
<text x="369" y="1164.6" font-size="10.5" fill="#111" font-weight="bold" text-anchor="start">2p<tspan font-size="6.5" dy="2.9">1/2</tspan></text>
<text x="461.4" y="1213.8" font-size="9" fill="#111" font-weight="bold" text-anchor="middle">*</text>
<text x="482.2" y="1213.8" font-size="9" fill="#111" font-weight="bold" text-anchor="middle">*</text>
</svg>
</body></html>
